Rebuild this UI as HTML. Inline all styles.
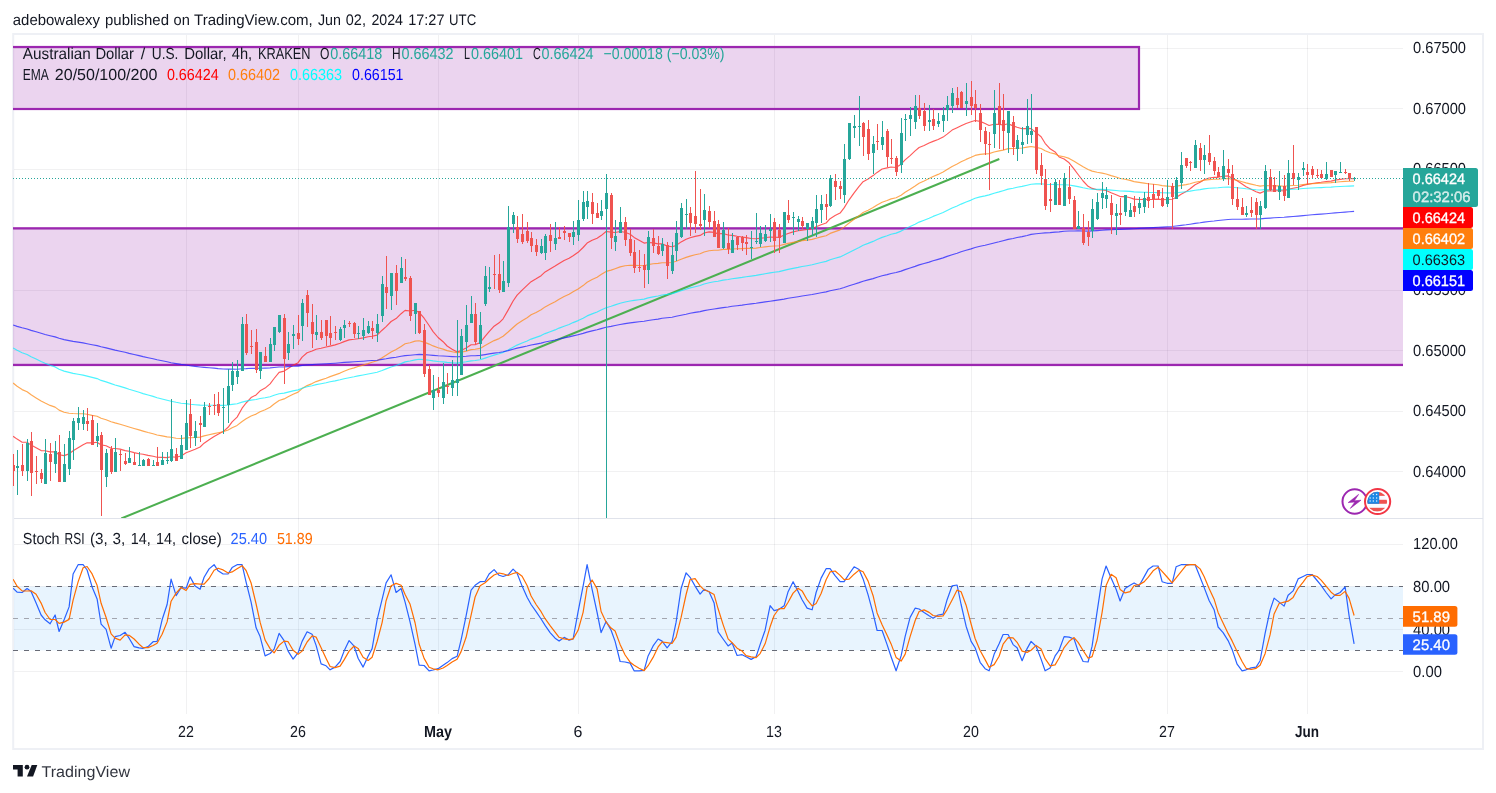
<!DOCTYPE html>
<html><head><meta charset="utf-8"><title>AUDUSD chart</title>
<style>html,body{margin:0;padding:0;background:#fff;}body{width:1496px;height:793px;position:relative;overflow:hidden;font-family:"Liberation Sans", sans-serif;}svg{font-family:"Liberation Sans", sans-serif;text-rendering:geometricPrecision;}</style>
</head><body>
<svg width="1496" height="793" viewBox="0 0 1496 793" style="position:absolute;left:0;top:0">
<defs>
<clipPath id="cm"><rect x="13" y="35" width="1390" height="483"/></clipPath>
<clipPath id="cs"><rect x="13" y="519" width="1390" height="195"/></clipPath>
<clipPath id="cm2"><rect x="13" y="35" width="1400" height="483"/></clipPath>
</defs>
<rect x="0" y="0" width="1496" height="793" fill="#fff"/>
<rect x="13.2" y="34" width="1469.8" height="715" fill="none" stroke="#eef0f5" stroke-width="2"/>
<rect x="14" y="518" width="1469" height="1" fill="#e0e3eb"/>
<rect x="186.0" y="35" width="1" height="679" fill="rgba(42,46,57,0.065)"/>
<rect x="298.0" y="35" width="1" height="679" fill="rgba(42,46,57,0.065)"/>
<rect x="438.0" y="35" width="1" height="679" fill="rgba(42,46,57,0.065)"/>
<rect x="578.0" y="35" width="1" height="679" fill="rgba(42,46,57,0.065)"/>
<rect x="774.0" y="35" width="1" height="679" fill="rgba(42,46,57,0.065)"/>
<rect x="971.0" y="35" width="1" height="679" fill="rgba(42,46,57,0.065)"/>
<rect x="1167.0" y="35" width="1" height="679" fill="rgba(42,46,57,0.065)"/>
<rect x="1307.0" y="35" width="1" height="679" fill="rgba(42,46,57,0.065)"/>
<rect x="14" y="48" width="1389" height="1" fill="rgba(42,46,57,0.065)"/>
<rect x="14" y="108" width="1389" height="1" fill="rgba(42,46,57,0.065)"/>
<rect x="14" y="169" width="1389" height="1" fill="rgba(42,46,57,0.065)"/>
<rect x="14" y="229" width="1389" height="1" fill="rgba(42,46,57,0.065)"/>
<rect x="14" y="290" width="1389" height="1" fill="rgba(42,46,57,0.065)"/>
<rect x="14" y="350" width="1389" height="1" fill="rgba(42,46,57,0.065)"/>
<rect x="14" y="411" width="1389" height="1" fill="rgba(42,46,57,0.065)"/>
<rect x="14" y="471" width="1389" height="1" fill="rgba(42,46,57,0.065)"/>
<rect x="14" y="544" width="1389" height="1" fill="rgba(42,46,57,0.065)"/>
<rect x="14" y="586" width="1389" height="1" fill="rgba(42,46,57,0.065)"/>
<rect x="14" y="629" width="1389" height="1" fill="rgba(42,46,57,0.065)"/>
<rect x="14" y="671" width="1389" height="1" fill="rgba(42,46,57,0.065)"/>
<g clip-path="url(#cm)">
<rect x="13" y="47" width="1126" height="62" fill="#9c27b0" fill-opacity="0.2"/>
<rect x="13" y="228.3" width="1390" height="136.7" fill="#9c27b0" fill-opacity="0.2"/>
</g>
<g clip-path="url(#cm2)"><rect x="0" y="47" width="1139" height="62" fill="none" stroke="#9c27b0" stroke-width="2.2"/></g>
<rect x="13" y="227.2" width="1390" height="2.3" fill="#9c27b0"/>
<rect x="13" y="363.8" width="1390" height="2.3" fill="#9c27b0"/>
<g clip-path="url(#cm)"><line x1="121.3" y1="518.5" x2="999.3" y2="159" stroke="#4caf50" stroke-width="2" stroke-linecap="butt"/></g>
<polyline clip-path="url(#cm)" points="13.1,436.3 17.1,439.1 22.1,442.2 27.1,442.2 31.1,445.1 36.1,447.7 41.1,450.6 45.1,450.8 50.1,451.9 55.1,451.8 59.1,454.7 64.1,455.6 69.1,453.9 73.1,450.8 78.1,447.7 83.1,444.7 87.1,442.7 92.1,442.9 97.1,442.3 101.1,444.9 106.1,445.7 111.1,448.2 115.1,448.5 120.1,449.1 125.1,450.6 129.1,451.3 134.1,452.6 139.1,453.7 143.1,454.3 148.1,455.4 153.1,456.3 157.1,457.2 162.1,457.4 167.1,457.6 171.1,456.8 176.1,457.2 181.1,456.0 186.1,452.8 190.1,451.2 195.1,449.3 200.1,447.0 204.1,443.2 209.1,439.7 214.1,436.5 218.1,434.2 223.1,431.6 228.1,427.3 232.1,421.9 237.1,417.1 242.1,408.2 246.1,403.0 251.1,397.6 256.1,394.9 260.1,390.8 265.1,388.1 270.1,383.9 274.1,378.5 279.1,372.4 284.1,371.1 288.1,368.5 293.1,365.2 298.1,362.7 302.1,357.1 307.1,352.8 312.1,351.0 316.1,349.2 321.1,348.2 326.1,347.0 330.1,346.1 335.1,344.9 340.1,343.3 344.1,341.6 349.1,339.9 354.1,339.3 358.1,338.7 363.1,337.9 368.1,336.8 372.1,336.2 377.1,335.1 382.1,330.2 386.1,326.6 391.1,321.5 396.1,318.6 401.1,313.7 405.1,310.4 410.1,311.0 415.1,310.2 419.1,312.4 424.1,318.2 429.1,325.5 433.1,331.6 438.1,337.5 443.1,341.7 447.1,346.0 452.1,349.2 457.1,352.1 461.1,350.5 466.1,348.1 471.1,344.8 475.1,344.6 480.1,342.7 485.1,336.3 489.1,331.6 494.1,326.2 499.1,322.8 503.1,318.8 508.1,310.1 513.1,301.0 517.1,295.1 522.1,290.1 527.1,285.4 531.1,281.7 536.1,278.8 541.1,275.7 545.1,271.9 550.1,268.9 555.1,266.0 559.1,263.4 564.1,260.5 569.1,258.3 573.1,255.8 578.1,252.3 583.1,247.5 587.1,243.1 592.1,240.3 597.1,238.2 601.1,235.6 606.1,231.5 611.1,232.1 615.1,232.5 620.1,231.5 625.1,232.3 630.1,234.2 634.1,237.4 639.1,240.3 644.1,243.1 648.1,242.5 653.1,242.9 658.1,243.9 662.1,243.9 667.1,246.0 672.1,246.8 676.1,245.5 681.1,241.9 686.1,239.3 690.1,237.7 695.1,236.4 700.1,235.4 704.1,233.0 709.1,231.9 714.1,232.4 718.1,233.9 723.1,233.5 728.1,235.0 732.1,235.4 737.1,236.3 742.1,237.0 746.1,237.6 751.1,238.5 756.1,238.7 760.1,238.2 765.1,237.8 770.1,237.0 774.1,237.3 779.1,237.4 784.1,235.0 788.1,233.5 793.1,231.9 798.1,230.7 802.1,230.2 807.1,229.5 812.1,228.7 816.1,226.8 821.1,224.7 826.1,223.0 830.1,218.7 835.1,215.6 840.1,213.1 844.1,207.9 849.1,199.8 854.1,192.8 859.1,186.4 863.1,181.7 868.1,179.0 873.1,175.6 877.1,172.4 882.1,169.0 887.1,167.9 891.1,167.0 896.1,167.5 901.1,164.2 905.1,159.9 910.1,155.6 915.1,150.9 919.1,147.5 924.1,145.5 929.1,143.0 933.1,141.4 938.1,139.5 943.1,137.1 947.1,134.1 952.1,130.1 957.1,127.7 961.1,125.8 966.1,123.5 971.1,121.8 975.1,120.5 980.1,121.4 985.1,123.5 989.1,125.5 994.1,124.3 999.1,124.4 1003.1,125.0 1008.1,123.7 1013.1,125.9 1017.1,127.3 1022.1,128.7 1027.1,128.4 1031.1,128.6 1036.1,132.6 1041.1,136.7 1045.1,143.3 1050.1,148.8 1055.1,151.9 1059.1,157.0 1064.1,159.0 1069.1,162.8 1074.1,169.1 1078.1,174.5 1083.1,181.0 1088.1,186.3 1092.1,188.4 1097.1,189.7 1102.1,190.0 1106.1,190.5 1111.1,192.8 1116.1,194.7 1120.1,196.6 1125.1,196.5 1130.1,197.8 1134.1,199.1 1139.1,199.5 1144.1,199.4 1148.1,199.5 1153.1,199.4 1158.1,199.1 1162.1,199.7 1167.1,199.5 1172.1,199.2 1176.1,197.4 1181.1,194.3 1186.1,191.6 1190.1,188.8 1195.1,184.7 1200.1,182.3 1204.1,179.7 1209.1,178.0 1214.1,177.3 1218.1,177.3 1223.1,176.2 1228.1,175.9 1232.1,178.1 1237.1,180.8 1242.1,184.1 1246.1,186.8 1251.1,189.3 1256.1,191.7 1260.1,193.1 1265.1,191.0 1270.1,190.9 1274.1,191.0 1279.1,190.5 1284.1,191.0 1288.1,189.3 1293.1,188.3 1298.1,187.2 1303.1,185.4 1307.1,184.4 1312.1,183.5 1317.1,182.7 1321.1,182.3 1326.1,181.5 1331.1,181.1 1335.1,180.1 1340.1,179.4 1345.1,178.7 1349.1,178.7 1354.1,178.6" fill="none" stroke="#ff3030" stroke-width="1.15" stroke-opacity="0.8" stroke-linejoin="round"/>
<polyline clip-path="url(#cm)" points="13.1,383.0 17.1,386.3 22.1,389.6 27.1,391.7 31.1,394.8 36.1,397.9 41.1,401.0 45.1,403.1 50.1,405.4 55.1,407.1 59.1,410.1 64.1,412.2 69.1,413.2 73.1,413.5 78.1,413.7 83.1,413.8 87.1,414.2 92.1,415.4 97.1,416.2 101.1,418.3 106.1,419.7 111.1,421.7 115.1,422.9 120.1,424.2 125.1,425.8 129.1,427.0 134.1,428.5 139.1,429.9 143.1,431.1 148.1,432.5 153.1,433.7 157.1,435.0 162.1,435.9 167.1,436.9 171.1,437.3 176.1,438.2 181.1,438.5 186.1,437.9 190.1,437.8 195.1,437.5 200.1,437.1 204.1,435.9 209.1,434.7 214.1,433.6 218.1,432.8 223.1,431.8 228.1,430.0 232.1,427.7 237.1,425.4 242.1,421.5 246.1,418.8 251.1,416.0 256.1,414.1 260.1,411.7 265.1,409.7 270.1,407.2 274.1,404.0 279.1,400.5 284.1,398.9 288.1,396.7 293.1,394.3 298.1,392.1 302.1,388.6 307.1,385.6 312.1,383.6 316.1,381.6 321.1,379.9 326.1,378.2 330.1,376.6 335.1,374.9 340.1,373.1 344.1,371.2 349.1,369.3 354.1,367.9 358.1,366.5 363.1,365.1 368.1,363.6 372.1,362.3 377.1,360.8 382.1,357.8 386.1,355.2 391.1,352.0 396.1,349.6 401.1,346.4 405.1,343.8 410.1,342.7 415.1,341.1 419.1,340.8 424.1,342.1 429.1,344.1 433.1,345.9 438.1,347.8 443.1,349.1 447.1,350.6 452.1,351.7 457.1,352.8 461.1,352.2 466.1,351.1 471.1,349.6 475.1,349.3 480.1,348.4 485.1,345.5 489.1,343.2 494.1,340.6 499.1,338.6 503.1,336.3 508.1,332.0 513.1,327.5 517.1,324.0 522.1,320.8 527.1,317.7 531.1,314.8 536.1,312.4 541.1,309.8 545.1,306.9 550.1,304.3 555.1,301.7 559.1,299.2 564.1,296.6 569.1,294.3 573.1,291.8 578.1,289.0 583.1,285.6 587.1,282.3 592.1,279.6 597.1,277.2 601.1,274.6 606.1,271.4 611.1,270.1 615.1,268.7 620.1,266.9 625.1,265.8 630.1,265.3 634.1,265.4 639.1,265.5 644.1,265.7 648.1,264.6 653.1,263.8 658.1,263.4 662.1,262.7 667.1,262.8 672.1,262.5 676.1,261.3 681.1,259.2 686.1,257.4 690.1,256.1 695.1,254.8 700.1,253.7 704.1,252.0 709.1,250.8 714.1,250.3 718.1,250.2 723.1,249.4 728.1,249.4 732.1,249.0 737.1,248.8 742.1,248.6 746.1,248.4 751.1,248.4 756.1,248.1 760.1,247.5 765.1,246.9 770.1,246.2 774.1,246.0 779.1,245.7 784.1,244.4 788.1,243.4 793.1,242.4 798.1,241.5 802.1,240.8 807.1,240.1 812.1,239.4 816.1,238.2 821.1,236.9 826.1,235.7 830.1,233.4 835.1,231.6 840.1,229.9 844.1,227.1 849.1,223.0 854.1,219.2 859.1,215.6 863.1,212.5 868.1,210.2 873.1,207.6 877.1,205.0 882.1,202.3 887.1,200.5 891.1,198.9 896.1,197.8 901.1,195.3 905.1,192.3 910.1,189.3 915.1,186.0 919.1,183.2 924.1,181.0 929.1,178.6 933.1,176.5 938.1,174.4 943.1,172.0 947.1,169.4 952.1,166.4 957.1,164.0 961.1,161.8 966.1,159.4 971.1,157.3 975.1,155.4 980.1,154.4 985.1,153.9 989.1,153.6 994.1,152.0 999.1,150.9 1003.1,150.1 1008.1,148.6 1013.1,148.5 1017.1,148.2 1022.1,148.0 1027.1,147.1 1031.1,146.5 1036.1,147.4 1041.1,148.5 1045.1,150.8 1050.1,152.7 1055.1,153.9 1059.1,155.9 1064.1,156.7 1069.1,158.4 1074.1,161.2 1078.1,163.7 1083.1,166.8 1088.1,169.5 1092.1,171.1 1097.1,172.3 1102.1,173.1 1106.1,174.0 1111.1,175.6 1116.1,177.0 1120.1,178.5 1125.1,179.2 1130.1,180.4 1134.1,181.6 1139.1,182.4 1144.1,183.1 1148.1,183.8 1153.1,184.3 1158.1,184.8 1162.1,185.6 1167.1,186.1 1172.1,186.5 1176.1,186.2 1181.1,185.4 1186.1,184.6 1190.1,183.8 1195.1,182.3 1200.1,181.4 1204.1,180.3 1209.1,179.6 1214.1,179.3 1218.1,179.2 1223.1,178.7 1228.1,178.4 1232.1,179.2 1237.1,180.3 1242.1,181.7 1246.1,182.9 1251.1,184.1 1256.1,185.3 1260.1,186.1 1265.1,185.5 1270.1,185.7 1274.1,185.9 1279.1,185.9 1284.1,186.3 1288.1,185.8 1293.1,185.5 1298.1,185.2 1303.1,184.5 1307.1,184.1 1312.1,183.8 1317.1,183.4 1321.1,183.2 1326.1,182.9 1331.1,182.6 1335.1,182.2 1340.1,181.8 1345.1,181.4 1349.1,181.3 1354.1,181.2" fill="none" stroke="#ff8c1a" stroke-width="1.15" stroke-opacity="0.75" stroke-linejoin="round"/>
<polyline clip-path="url(#cm)" points="13.1,348.0 17.1,350.3 22.1,352.7 27.1,354.5 31.1,356.8 36.1,359.1 41.1,361.5 45.1,363.3 50.1,365.2 55.1,366.9 59.1,369.2 64.1,371.1 69.1,372.4 73.1,373.4 78.1,374.3 83.1,375.1 87.1,376.1 92.1,377.4 97.1,378.6 101.1,380.4 106.1,381.9 111.1,383.6 115.1,385.0 120.1,386.4 125.1,387.9 129.1,389.3 134.1,390.8 139.1,392.3 143.1,393.6 148.1,395.0 153.1,396.4 157.1,397.8 162.1,399.0 167.1,400.2 171.1,401.2 176.1,402.3 181.1,403.2 186.1,403.6 190.1,404.2 195.1,404.7 200.1,405.1 204.1,405.2 209.1,405.2 214.1,405.2 218.1,405.4 223.1,405.4 228.1,405.0 232.1,404.4 237.1,403.7 242.1,402.1 246.1,401.1 251.1,400.1 256.1,399.5 260.1,398.5 265.1,397.8 270.1,396.7 274.1,395.3 279.1,393.8 284.1,393.1 288.1,392.1 293.1,390.9 298.1,389.9 302.1,388.2 307.1,386.7 312.1,385.7 316.1,384.6 321.1,383.7 326.1,382.7 330.1,381.8 335.1,380.9 340.1,379.8 344.1,378.7 349.1,377.7 354.1,376.8 358.1,375.9 363.1,375.0 368.1,374.0 372.1,373.2 377.1,372.2 382.1,370.5 386.1,368.9 391.1,367.0 396.1,365.5 401.1,363.6 405.1,361.9 410.1,361.0 415.1,359.9 419.1,359.3 424.1,359.6 429.1,360.3 433.1,360.9 438.1,361.5 443.1,361.9 447.1,362.4 452.1,362.8 457.1,363.1 461.1,362.5 466.1,361.8 471.1,360.9 475.1,360.5 480.1,359.8 485.1,358.1 489.1,356.7 494.1,355.1 499.1,353.8 503.1,352.4 508.1,349.9 513.1,347.2 517.1,345.1 522.1,343.0 527.1,341.0 531.1,339.1 536.1,337.4 541.1,335.6 545.1,333.6 550.1,331.8 555.1,329.9 559.1,328.1 564.1,326.2 569.1,324.5 573.1,322.6 578.1,320.6 583.1,318.2 587.1,315.9 592.1,313.9 597.1,312.0 601.1,310.0 606.1,307.7 611.1,306.3 615.1,304.9 620.1,303.3 625.1,302.0 630.1,301.0 634.1,300.4 639.1,299.7 644.1,299.1 648.1,297.9 653.1,296.9 658.1,296.0 662.1,295.0 667.1,294.4 672.1,293.6 676.1,292.4 681.1,290.8 686.1,289.2 690.1,287.9 695.1,286.7 700.1,285.5 704.1,284.0 709.1,282.7 714.1,281.8 718.1,281.2 723.1,280.1 728.1,279.5 732.1,278.7 737.1,278.1 742.1,277.4 746.1,276.7 751.1,276.1 756.1,275.4 760.1,274.6 765.1,273.8 770.1,272.9 774.1,272.3 779.1,271.6 784.1,270.4 788.1,269.4 793.1,268.4 798.1,267.4 802.1,266.5 807.1,265.7 812.1,264.8 816.1,263.7 821.1,262.5 826.1,261.4 830.1,259.8 835.1,258.3 840.1,256.9 844.1,255.0 849.1,252.4 854.1,249.9 859.1,247.4 863.1,245.2 868.1,243.4 873.1,241.4 877.1,239.5 882.1,237.4 887.1,235.8 891.1,234.3 896.1,233.1 901.1,231.1 905.1,228.9 910.1,226.6 915.1,224.2 919.1,222.1 924.1,220.2 929.1,218.2 933.1,216.4 938.1,214.5 943.1,212.5 947.1,210.4 952.1,208.0 957.1,206.0 961.1,204.1 966.1,202.0 971.1,200.1 975.1,198.3 980.1,196.9 985.1,195.9 989.1,194.9 994.1,193.2 999.1,191.9 1003.1,190.7 1008.1,189.1 1013.1,188.3 1017.1,187.3 1022.1,186.4 1027.1,185.2 1031.1,184.2 1036.1,183.9 1041.1,183.7 1045.1,184.2 1050.1,184.5 1055.1,184.4 1059.1,184.8 1064.1,184.7 1069.1,185.0 1074.1,185.9 1078.1,186.6 1083.1,187.8 1088.1,188.7 1092.1,189.1 1097.1,189.4 1102.1,189.4 1106.1,189.6 1111.1,190.1 1116.1,190.5 1120.1,191.0 1125.1,191.1 1130.1,191.4 1134.1,191.9 1139.1,192.1 1144.1,192.2 1148.1,192.4 1153.1,192.5 1158.1,192.6 1162.1,192.8 1167.1,192.9 1172.1,193.0 1176.1,192.7 1181.1,192.2 1186.1,191.7 1190.1,191.1 1195.1,190.2 1200.1,189.6 1204.1,188.9 1209.1,188.3 1214.1,188.0 1218.1,187.8 1223.1,187.3 1228.1,187.1 1232.1,187.3 1237.1,187.7 1242.1,188.2 1246.1,188.7 1251.1,189.2 1256.1,189.7 1260.1,190.0 1265.1,189.6 1270.1,189.6 1274.1,189.7 1279.1,189.6 1284.1,189.7 1288.1,189.4 1293.1,189.2 1298.1,189.0 1303.1,188.5 1307.1,188.3 1312.1,188.0 1317.1,187.8 1321.1,187.6 1326.1,187.3 1331.1,187.1 1335.1,186.8 1340.1,186.5 1345.1,186.2 1349.1,186.1 1354.1,185.9" fill="none" stroke="#00f0ff" stroke-width="1.15" stroke-opacity="0.7" stroke-linejoin="round"/>
<polyline clip-path="url(#cm)" points="13.1,325.0 17.1,326.4 22.1,327.8 27.1,329.0 31.1,330.4 36.1,331.8 41.1,333.3 45.1,334.5 50.1,335.7 55.1,336.9 59.1,338.3 64.1,339.6 69.1,340.6 73.1,341.4 78.1,342.1 83.1,342.9 87.1,343.7 92.1,344.7 97.1,345.6 101.1,346.8 106.1,347.9 111.1,349.1 115.1,350.1 120.1,351.2 125.1,352.3 129.1,353.4 134.1,354.5 139.1,355.6 143.1,356.6 148.1,357.7 153.1,358.8 157.1,359.8 162.1,360.8 167.1,361.8 171.1,362.7 176.1,363.6 181.1,364.4 186.1,365.0 190.1,365.7 195.1,366.4 200.1,367.0 204.1,367.4 209.1,367.8 214.1,368.1 218.1,368.6 223.1,369.0 228.1,369.1 232.1,369.1 237.1,369.2 242.1,368.7 246.1,368.6 251.1,368.3 256.1,368.4 260.1,368.2 265.1,368.1 270.1,367.9 274.1,367.5 279.1,367.0 284.1,366.9 288.1,366.6 293.1,366.3 298.1,366.1 302.1,365.4 307.1,364.9 312.1,364.6 316.1,364.3 321.1,364.0 326.1,363.7 330.1,363.5 335.1,363.2 340.1,362.8 344.1,362.4 349.1,362.1 354.1,361.8 358.1,361.5 363.1,361.2 368.1,360.8 372.1,360.5 377.1,360.2 382.1,359.4 386.1,358.8 391.1,357.9 396.1,357.2 401.1,356.3 405.1,355.6 410.1,355.2 415.1,354.7 419.1,354.4 424.1,354.6 429.1,355.0 433.1,355.4 438.1,355.8 443.1,356.0 447.1,356.3 452.1,356.6 457.1,356.8 461.1,356.6 466.1,356.3 471.1,355.8 475.1,355.7 480.1,355.4 485.1,354.6 489.1,353.9 494.1,353.1 499.1,352.5 503.1,351.8 508.1,350.6 513.1,349.2 517.1,348.1 522.1,347.1 527.1,346.0 531.1,345.0 536.1,344.1 541.1,343.1 545.1,342.0 550.1,341.0 555.1,340.0 559.1,339.0 564.1,337.9 569.1,336.9 573.1,335.9 578.1,334.7 583.1,333.4 587.1,332.1 592.1,330.9 597.1,329.8 601.1,328.6 606.1,327.3 611.1,326.4 615.1,325.5 620.1,324.5 625.1,323.6 630.1,322.9 634.1,322.4 639.1,321.8 644.1,321.3 648.1,320.5 653.1,319.7 658.1,319.1 662.1,318.3 667.1,317.8 672.1,317.2 676.1,316.3 681.1,315.2 686.1,314.2 690.1,313.3 695.1,312.4 700.1,311.6 704.1,310.6 709.1,309.7 714.1,309.0 718.1,308.4 723.1,307.6 728.1,307.0 732.1,306.3 737.1,305.7 742.1,305.1 746.1,304.5 751.1,303.9 756.1,303.3 760.1,302.6 765.1,301.9 770.1,301.2 774.1,300.6 779.1,299.9 784.1,299.1 788.1,298.3 793.1,297.5 798.1,296.7 802.1,296.0 807.1,295.3 812.1,294.5 816.1,293.7 821.1,292.8 826.1,291.9 830.1,290.8 835.1,289.8 840.1,288.7 844.1,287.5 849.1,285.8 854.1,284.2 859.1,282.6 863.1,281.2 868.1,279.9 873.1,278.6 877.1,277.2 882.1,275.8 887.1,274.6 891.1,273.5 896.1,272.5 901.1,271.1 905.1,269.6 910.1,268.0 915.1,266.4 919.1,264.9 924.1,263.5 929.1,262.1 933.1,260.8 938.1,259.4 943.1,257.9 947.1,256.4 952.1,254.8 957.1,253.3 961.1,251.8 966.1,250.3 971.1,248.9 975.1,247.5 980.1,246.3 985.1,245.3 989.1,244.3 994.1,243.0 999.1,241.8 1003.1,240.7 1008.1,239.4 1013.1,238.5 1017.1,237.5 1022.1,236.6 1027.1,235.5 1031.1,234.4 1036.1,233.8 1041.1,233.2 1045.1,232.9 1050.1,232.6 1055.1,232.1 1059.1,231.9 1064.1,231.3 1069.1,231.0 1074.1,231.0 1078.1,230.9 1083.1,231.0 1088.1,231.1 1092.1,230.9 1097.1,230.6 1102.1,230.2 1106.1,229.9 1111.1,229.7 1116.1,229.5 1120.1,229.4 1125.1,229.1 1130.1,228.9 1134.1,228.7 1139.1,228.4 1144.1,228.1 1148.1,227.9 1153.1,227.6 1158.1,227.3 1162.1,227.1 1167.1,226.8 1172.1,226.5 1176.1,226.0 1181.1,225.4 1186.1,224.8 1190.1,224.2 1195.1,223.4 1200.1,222.8 1204.1,222.1 1209.1,221.5 1214.1,221.0 1218.1,220.5 1223.1,220.0 1228.1,219.5 1232.1,219.3 1237.1,219.2 1242.1,219.2 1246.1,219.1 1251.1,219.0 1256.1,219.0 1260.1,218.9 1265.1,218.4 1270.1,218.1 1274.1,217.8 1279.1,217.5 1284.1,217.3 1288.1,216.9 1293.1,216.5 1298.1,216.1 1303.1,215.6 1307.1,215.2 1312.1,214.8 1317.1,214.4 1321.1,214.1 1326.1,213.7 1331.1,213.3 1335.1,212.9 1340.1,212.5 1345.1,212.1 1349.1,211.7 1354.1,211.4" fill="none" stroke="#2020ff" stroke-width="1.15" stroke-opacity="0.75" stroke-linejoin="round"/>
<g clip-path="url(#cm)" shape-rendering="crispEdges">
<rect x="13" y="454" width="1" height="32" fill="#ef5350"/>
<rect x="12" y="465" width="3" height="6" fill="#ef5350"/>
<rect x="17" y="450" width="1" height="45" fill="#26a69a"/>
<rect x="16" y="466" width="3" height="2" fill="#26a69a"/>
<rect x="22" y="444" width="1" height="32" fill="#ef5350"/>
<rect x="21" y="465" width="3" height="6" fill="#ef5350"/>
<rect x="27" y="439" width="1" height="42" fill="#26a69a"/>
<rect x="26" y="443" width="3" height="28" fill="#26a69a"/>
<rect x="31" y="432" width="1" height="64" fill="#ef5350"/>
<rect x="30" y="441" width="3" height="32" fill="#ef5350"/>
<rect x="36" y="456" width="1" height="28" fill="#ef5350"/>
<rect x="35" y="471" width="3" height="1" fill="#ef5350"/>
<rect x="41" y="469" width="1" height="14" fill="#ef5350"/>
<rect x="40" y="473" width="3" height="6" fill="#ef5350"/>
<rect x="45" y="439" width="1" height="45" fill="#26a69a"/>
<rect x="44" y="453" width="3" height="31" fill="#26a69a"/>
<rect x="50" y="443" width="1" height="38" fill="#ef5350"/>
<rect x="49" y="454" width="3" height="8" fill="#ef5350"/>
<rect x="55" y="441" width="1" height="32" fill="#26a69a"/>
<rect x="54" y="451" width="3" height="13" fill="#26a69a"/>
<rect x="59" y="435" width="1" height="47" fill="#ef5350"/>
<rect x="58" y="452" width="3" height="30" fill="#ef5350"/>
<rect x="64" y="444" width="1" height="38" fill="#26a69a"/>
<rect x="63" y="464" width="3" height="18" fill="#26a69a"/>
<rect x="69" y="431" width="1" height="44" fill="#26a69a"/>
<rect x="68" y="438" width="3" height="31" fill="#26a69a"/>
<rect x="73" y="418" width="1" height="42" fill="#26a69a"/>
<rect x="72" y="421" width="3" height="19" fill="#26a69a"/>
<rect x="78" y="407" width="1" height="23" fill="#26a69a"/>
<rect x="77" y="418" width="3" height="5" fill="#26a69a"/>
<rect x="83" y="410" width="1" height="20" fill="#26a69a"/>
<rect x="82" y="417" width="3" height="7" fill="#26a69a"/>
<rect x="87" y="408" width="1" height="23" fill="#ef5350"/>
<rect x="86" y="421" width="3" height="3" fill="#ef5350"/>
<rect x="92" y="415" width="1" height="30" fill="#ef5350"/>
<rect x="91" y="420" width="3" height="25" fill="#ef5350"/>
<rect x="97" y="423" width="1" height="24" fill="#26a69a"/>
<rect x="96" y="436" width="3" height="5" fill="#26a69a"/>
<rect x="101" y="432" width="1" height="84" fill="#ef5350"/>
<rect x="100" y="435" width="3" height="35" fill="#ef5350"/>
<rect x="106" y="449" width="1" height="38" fill="#26a69a"/>
<rect x="105" y="453" width="3" height="24" fill="#26a69a"/>
<rect x="111" y="446" width="1" height="28" fill="#ef5350"/>
<rect x="110" y="449" width="3" height="23" fill="#ef5350"/>
<rect x="115" y="438" width="1" height="34" fill="#26a69a"/>
<rect x="114" y="452" width="3" height="20" fill="#26a69a"/>
<rect x="120" y="450" width="1" height="21" fill="#ef5350"/>
<rect x="119" y="454" width="3" height="1" fill="#ef5350"/>
<rect x="125" y="453" width="1" height="12" fill="#ef5350"/>
<rect x="124" y="461" width="3" height="3" fill="#ef5350"/>
<rect x="129" y="447" width="1" height="16" fill="#26a69a"/>
<rect x="128" y="458" width="3" height="5" fill="#26a69a"/>
<rect x="134" y="453" width="1" height="12" fill="#ef5350"/>
<rect x="133" y="462" width="3" height="3" fill="#ef5350"/>
<rect x="139" y="452" width="1" height="14" fill="#26a69a"/>
<rect x="138" y="465" width="3" height="1" fill="#26a69a"/>
<rect x="143" y="459" width="1" height="7" fill="#26a69a"/>
<rect x="142" y="460" width="3" height="6" fill="#26a69a"/>
<rect x="148" y="458" width="1" height="8" fill="#ef5350"/>
<rect x="147" y="459" width="3" height="7" fill="#ef5350"/>
<rect x="153" y="460" width="1" height="6" fill="#26a69a"/>
<rect x="152" y="465" width="3" height="1" fill="#26a69a"/>
<rect x="157" y="447" width="1" height="19" fill="#ef5350"/>
<rect x="156" y="462" width="3" height="4" fill="#ef5350"/>
<rect x="162" y="452" width="1" height="13" fill="#26a69a"/>
<rect x="161" y="460" width="3" height="5" fill="#26a69a"/>
<rect x="167" y="452" width="1" height="12" fill="#26a69a"/>
<rect x="166" y="460" width="3" height="1" fill="#26a69a"/>
<rect x="171" y="399" width="1" height="63" fill="#26a69a"/>
<rect x="170" y="449" width="3" height="12" fill="#26a69a"/>
<rect x="176" y="448" width="1" height="13" fill="#ef5350"/>
<rect x="175" y="454" width="3" height="7" fill="#ef5350"/>
<rect x="181" y="435" width="1" height="24" fill="#26a69a"/>
<rect x="180" y="445" width="3" height="14" fill="#26a69a"/>
<rect x="186" y="400" width="1" height="50" fill="#26a69a"/>
<rect x="185" y="423" width="3" height="27" fill="#26a69a"/>
<rect x="190" y="399" width="1" height="49" fill="#ef5350"/>
<rect x="189" y="414" width="3" height="22" fill="#ef5350"/>
<rect x="195" y="421" width="1" height="25" fill="#26a69a"/>
<rect x="194" y="431" width="3" height="7" fill="#26a69a"/>
<rect x="200" y="416" width="1" height="26" fill="#ef5350"/>
<rect x="199" y="423" width="3" height="2" fill="#ef5350"/>
<rect x="204" y="402" width="1" height="25" fill="#26a69a"/>
<rect x="203" y="407" width="3" height="20" fill="#26a69a"/>
<rect x="209" y="403" width="1" height="12" fill="#ef5350"/>
<rect x="208" y="406" width="3" height="1" fill="#ef5350"/>
<rect x="214" y="394" width="1" height="21" fill="#ef5350"/>
<rect x="213" y="405" width="3" height="1" fill="#ef5350"/>
<rect x="218" y="392" width="1" height="24" fill="#ef5350"/>
<rect x="217" y="404" width="3" height="9" fill="#ef5350"/>
<rect x="223" y="388" width="1" height="46" fill="#26a69a"/>
<rect x="222" y="407" width="3" height="1" fill="#26a69a"/>
<rect x="228" y="369" width="1" height="54" fill="#26a69a"/>
<rect x="227" y="386" width="3" height="19" fill="#26a69a"/>
<rect x="232" y="362" width="1" height="29" fill="#26a69a"/>
<rect x="231" y="371" width="3" height="14" fill="#26a69a"/>
<rect x="237" y="360" width="1" height="24" fill="#26a69a"/>
<rect x="236" y="371" width="3" height="6" fill="#26a69a"/>
<rect x="242" y="317" width="1" height="54" fill="#26a69a"/>
<rect x="241" y="324" width="3" height="47" fill="#26a69a"/>
<rect x="246" y="314" width="1" height="41" fill="#ef5350"/>
<rect x="245" y="324" width="3" height="29" fill="#ef5350"/>
<rect x="251" y="330" width="1" height="24" fill="#ef5350"/>
<rect x="250" y="346" width="3" height="1" fill="#ef5350"/>
<rect x="256" y="329" width="1" height="44" fill="#ef5350"/>
<rect x="255" y="342" width="3" height="28" fill="#ef5350"/>
<rect x="260" y="352" width="1" height="27" fill="#26a69a"/>
<rect x="259" y="352" width="3" height="19" fill="#26a69a"/>
<rect x="265" y="347" width="1" height="15" fill="#ef5350"/>
<rect x="264" y="356" width="3" height="6" fill="#ef5350"/>
<rect x="270" y="338" width="1" height="24" fill="#26a69a"/>
<rect x="269" y="344" width="3" height="18" fill="#26a69a"/>
<rect x="274" y="327" width="1" height="24" fill="#26a69a"/>
<rect x="273" y="327" width="3" height="18" fill="#26a69a"/>
<rect x="279" y="315" width="1" height="18" fill="#26a69a"/>
<rect x="278" y="315" width="3" height="17" fill="#26a69a"/>
<rect x="284" y="314" width="1" height="70" fill="#ef5350"/>
<rect x="283" y="318" width="3" height="41" fill="#ef5350"/>
<rect x="288" y="332" width="1" height="28" fill="#26a69a"/>
<rect x="287" y="344" width="3" height="9" fill="#26a69a"/>
<rect x="293" y="325" width="1" height="24" fill="#26a69a"/>
<rect x="292" y="334" width="3" height="2" fill="#26a69a"/>
<rect x="298" y="315" width="1" height="30" fill="#ef5350"/>
<rect x="297" y="333" width="3" height="6" fill="#ef5350"/>
<rect x="302" y="299" width="1" height="42" fill="#26a69a"/>
<rect x="301" y="303" width="3" height="23" fill="#26a69a"/>
<rect x="307" y="290" width="1" height="37" fill="#ef5350"/>
<rect x="306" y="295" width="3" height="18" fill="#ef5350"/>
<rect x="312" y="304" width="1" height="44" fill="#ef5350"/>
<rect x="311" y="322" width="3" height="12" fill="#ef5350"/>
<rect x="316" y="315" width="1" height="25" fill="#26a69a"/>
<rect x="315" y="332" width="3" height="3" fill="#26a69a"/>
<rect x="321" y="320" width="1" height="20" fill="#ef5350"/>
<rect x="320" y="332" width="3" height="6" fill="#ef5350"/>
<rect x="326" y="320" width="1" height="26" fill="#ef5350"/>
<rect x="325" y="320" width="3" height="16" fill="#ef5350"/>
<rect x="330" y="316" width="1" height="29" fill="#ef5350"/>
<rect x="329" y="333" width="3" height="5" fill="#ef5350"/>
<rect x="335" y="326" width="1" height="14" fill="#ef5350"/>
<rect x="334" y="332" width="3" height="1" fill="#ef5350"/>
<rect x="340" y="327" width="1" height="14" fill="#26a69a"/>
<rect x="339" y="329" width="3" height="11" fill="#26a69a"/>
<rect x="344" y="320" width="1" height="18" fill="#26a69a"/>
<rect x="343" y="325" width="3" height="3" fill="#26a69a"/>
<rect x="349" y="321" width="1" height="6" fill="#ef5350"/>
<rect x="348" y="323" width="3" height="1" fill="#ef5350"/>
<rect x="354" y="322" width="1" height="16" fill="#ef5350"/>
<rect x="353" y="323" width="3" height="11" fill="#ef5350"/>
<rect x="358" y="326" width="1" height="13" fill="#26a69a"/>
<rect x="357" y="333" width="3" height="1" fill="#26a69a"/>
<rect x="363" y="318" width="1" height="22" fill="#26a69a"/>
<rect x="362" y="330" width="3" height="6" fill="#26a69a"/>
<rect x="368" y="321" width="1" height="13" fill="#26a69a"/>
<rect x="367" y="326" width="3" height="7" fill="#26a69a"/>
<rect x="372" y="321" width="1" height="18" fill="#ef5350"/>
<rect x="371" y="328" width="3" height="3" fill="#ef5350"/>
<rect x="377" y="314" width="1" height="28" fill="#26a69a"/>
<rect x="376" y="324" width="3" height="9" fill="#26a69a"/>
<rect x="382" y="276" width="1" height="46" fill="#26a69a"/>
<rect x="381" y="284" width="3" height="32" fill="#26a69a"/>
<rect x="386" y="256" width="1" height="53" fill="#ef5350"/>
<rect x="385" y="287" width="3" height="6" fill="#ef5350"/>
<rect x="391" y="273" width="1" height="37" fill="#26a69a"/>
<rect x="390" y="273" width="3" height="23" fill="#26a69a"/>
<rect x="396" y="265" width="1" height="40" fill="#ef5350"/>
<rect x="395" y="273" width="3" height="18" fill="#ef5350"/>
<rect x="401" y="257" width="1" height="26" fill="#26a69a"/>
<rect x="400" y="268" width="3" height="15" fill="#26a69a"/>
<rect x="405" y="259" width="1" height="22" fill="#ef5350"/>
<rect x="404" y="277" width="3" height="2" fill="#ef5350"/>
<rect x="410" y="276" width="1" height="45" fill="#ef5350"/>
<rect x="409" y="278" width="3" height="38" fill="#ef5350"/>
<rect x="415" y="303" width="1" height="31" fill="#26a69a"/>
<rect x="414" y="303" width="3" height="11" fill="#26a69a"/>
<rect x="419" y="311" width="1" height="23" fill="#ef5350"/>
<rect x="418" y="311" width="3" height="22" fill="#ef5350"/>
<rect x="424" y="324" width="1" height="53" fill="#ef5350"/>
<rect x="423" y="330" width="3" height="44" fill="#ef5350"/>
<rect x="429" y="365" width="1" height="30" fill="#ef5350"/>
<rect x="428" y="369" width="3" height="26" fill="#ef5350"/>
<rect x="433" y="375" width="1" height="35" fill="#26a69a"/>
<rect x="432" y="390" width="3" height="8" fill="#26a69a"/>
<rect x="438" y="377" width="1" height="20" fill="#ef5350"/>
<rect x="437" y="390" width="3" height="3" fill="#ef5350"/>
<rect x="443" y="363" width="1" height="41" fill="#26a69a"/>
<rect x="442" y="382" width="3" height="16" fill="#26a69a"/>
<rect x="447" y="373" width="1" height="21" fill="#ef5350"/>
<rect x="446" y="386" width="3" height="1" fill="#ef5350"/>
<rect x="452" y="360" width="1" height="36" fill="#26a69a"/>
<rect x="451" y="380" width="3" height="8" fill="#26a69a"/>
<rect x="457" y="320" width="1" height="76" fill="#26a69a"/>
<rect x="456" y="379" width="3" height="4" fill="#26a69a"/>
<rect x="461" y="329" width="1" height="46" fill="#26a69a"/>
<rect x="460" y="336" width="3" height="39" fill="#26a69a"/>
<rect x="466" y="305" width="1" height="46" fill="#26a69a"/>
<rect x="465" y="325" width="3" height="17" fill="#26a69a"/>
<rect x="471" y="296" width="1" height="27" fill="#26a69a"/>
<rect x="470" y="314" width="3" height="9" fill="#26a69a"/>
<rect x="475" y="303" width="1" height="41" fill="#ef5350"/>
<rect x="474" y="314" width="3" height="28" fill="#ef5350"/>
<rect x="480" y="312" width="1" height="47" fill="#26a69a"/>
<rect x="479" y="325" width="3" height="19" fill="#26a69a"/>
<rect x="485" y="266" width="1" height="40" fill="#26a69a"/>
<rect x="484" y="276" width="3" height="28" fill="#26a69a"/>
<rect x="489" y="267" width="1" height="25" fill="#26a69a"/>
<rect x="488" y="287" width="3" height="2" fill="#26a69a"/>
<rect x="494" y="255" width="1" height="34" fill="#ef5350"/>
<rect x="493" y="274" width="3" height="1" fill="#ef5350"/>
<rect x="499" y="254" width="1" height="39" fill="#ef5350"/>
<rect x="498" y="274" width="3" height="16" fill="#ef5350"/>
<rect x="503" y="261" width="1" height="31" fill="#26a69a"/>
<rect x="502" y="281" width="3" height="11" fill="#26a69a"/>
<rect x="508" y="206" width="1" height="81" fill="#26a69a"/>
<rect x="507" y="227" width="3" height="56" fill="#26a69a"/>
<rect x="513" y="212" width="1" height="21" fill="#26a69a"/>
<rect x="512" y="215" width="3" height="9" fill="#26a69a"/>
<rect x="517" y="216" width="1" height="27" fill="#ef5350"/>
<rect x="516" y="227" width="3" height="12" fill="#ef5350"/>
<rect x="522" y="214" width="1" height="30" fill="#ef5350"/>
<rect x="521" y="234" width="3" height="8" fill="#ef5350"/>
<rect x="527" y="222" width="1" height="21" fill="#ef5350"/>
<rect x="526" y="231" width="3" height="10" fill="#ef5350"/>
<rect x="531" y="232" width="1" height="20" fill="#ef5350"/>
<rect x="530" y="238" width="3" height="8" fill="#ef5350"/>
<rect x="536" y="239" width="1" height="17" fill="#ef5350"/>
<rect x="535" y="245" width="3" height="7" fill="#ef5350"/>
<rect x="541" y="239" width="1" height="15" fill="#26a69a"/>
<rect x="540" y="246" width="3" height="7" fill="#26a69a"/>
<rect x="545" y="234" width="1" height="26" fill="#26a69a"/>
<rect x="544" y="236" width="3" height="17" fill="#26a69a"/>
<rect x="550" y="224" width="1" height="28" fill="#ef5350"/>
<rect x="549" y="235" width="3" height="6" fill="#ef5350"/>
<rect x="555" y="222" width="1" height="28" fill="#26a69a"/>
<rect x="554" y="238" width="3" height="6" fill="#26a69a"/>
<rect x="559" y="227" width="1" height="12" fill="#ef5350"/>
<rect x="558" y="237" width="3" height="2" fill="#ef5350"/>
<rect x="564" y="226" width="1" height="14" fill="#ef5350"/>
<rect x="563" y="231" width="3" height="2" fill="#ef5350"/>
<rect x="569" y="233" width="1" height="9" fill="#ef5350"/>
<rect x="568" y="233" width="3" height="4" fill="#ef5350"/>
<rect x="573" y="221" width="1" height="24" fill="#26a69a"/>
<rect x="572" y="232" width="3" height="5" fill="#26a69a"/>
<rect x="578" y="200" width="1" height="41" fill="#26a69a"/>
<rect x="577" y="220" width="3" height="15" fill="#26a69a"/>
<rect x="583" y="191" width="1" height="30" fill="#26a69a"/>
<rect x="582" y="202" width="3" height="17" fill="#26a69a"/>
<rect x="587" y="191" width="1" height="28" fill="#26a69a"/>
<rect x="586" y="201" width="3" height="6" fill="#26a69a"/>
<rect x="592" y="193" width="1" height="31" fill="#ef5350"/>
<rect x="591" y="202" width="3" height="12" fill="#ef5350"/>
<rect x="597" y="203" width="1" height="15" fill="#ef5350"/>
<rect x="596" y="213" width="3" height="5" fill="#ef5350"/>
<rect x="601" y="200" width="1" height="20" fill="#26a69a"/>
<rect x="600" y="211" width="3" height="5" fill="#26a69a"/>
<rect x="606" y="174" width="1" height="344" fill="#26a69a"/>
<rect x="605" y="193" width="3" height="16" fill="#26a69a"/>
<rect x="611" y="193" width="1" height="56" fill="#ef5350"/>
<rect x="610" y="195" width="3" height="43" fill="#ef5350"/>
<rect x="615" y="220" width="1" height="31" fill="#26a69a"/>
<rect x="614" y="236" width="3" height="6" fill="#26a69a"/>
<rect x="620" y="207" width="1" height="26" fill="#26a69a"/>
<rect x="619" y="222" width="3" height="11" fill="#26a69a"/>
<rect x="625" y="217" width="1" height="29" fill="#ef5350"/>
<rect x="624" y="222" width="3" height="18" fill="#ef5350"/>
<rect x="630" y="229" width="1" height="27" fill="#ef5350"/>
<rect x="629" y="239" width="3" height="14" fill="#ef5350"/>
<rect x="634" y="240" width="1" height="33" fill="#ef5350"/>
<rect x="633" y="252" width="3" height="16" fill="#ef5350"/>
<rect x="639" y="250" width="1" height="22" fill="#ef5350"/>
<rect x="638" y="267" width="3" height="1" fill="#ef5350"/>
<rect x="644" y="254" width="1" height="34" fill="#ef5350"/>
<rect x="643" y="265" width="3" height="5" fill="#ef5350"/>
<rect x="648" y="231" width="1" height="53" fill="#26a69a"/>
<rect x="647" y="237" width="3" height="33" fill="#26a69a"/>
<rect x="653" y="229" width="1" height="24" fill="#ef5350"/>
<rect x="652" y="238" width="3" height="8" fill="#ef5350"/>
<rect x="658" y="236" width="1" height="19" fill="#ef5350"/>
<rect x="657" y="246" width="3" height="8" fill="#ef5350"/>
<rect x="662" y="238" width="1" height="18" fill="#26a69a"/>
<rect x="661" y="244" width="3" height="7" fill="#26a69a"/>
<rect x="667" y="242" width="1" height="37" fill="#ef5350"/>
<rect x="666" y="245" width="3" height="21" fill="#ef5350"/>
<rect x="672" y="242" width="1" height="32" fill="#26a69a"/>
<rect x="671" y="255" width="3" height="16" fill="#26a69a"/>
<rect x="676" y="221" width="1" height="40" fill="#26a69a"/>
<rect x="675" y="233" width="3" height="18" fill="#26a69a"/>
<rect x="681" y="203" width="1" height="35" fill="#26a69a"/>
<rect x="680" y="208" width="3" height="29" fill="#26a69a"/>
<rect x="686" y="199" width="1" height="30" fill="#26a69a"/>
<rect x="685" y="214" width="3" height="1" fill="#26a69a"/>
<rect x="690" y="207" width="1" height="29" fill="#ef5350"/>
<rect x="689" y="213" width="3" height="10" fill="#ef5350"/>
<rect x="695" y="171" width="1" height="62" fill="#ef5350"/>
<rect x="694" y="216" width="3" height="8" fill="#ef5350"/>
<rect x="700" y="189" width="1" height="41" fill="#ef5350"/>
<rect x="699" y="224" width="3" height="2" fill="#ef5350"/>
<rect x="704" y="194" width="1" height="42" fill="#26a69a"/>
<rect x="703" y="210" width="3" height="10" fill="#26a69a"/>
<rect x="709" y="206" width="1" height="22" fill="#ef5350"/>
<rect x="708" y="211" width="3" height="11" fill="#ef5350"/>
<rect x="714" y="211" width="1" height="26" fill="#ef5350"/>
<rect x="713" y="221" width="3" height="16" fill="#ef5350"/>
<rect x="718" y="220" width="1" height="28" fill="#ef5350"/>
<rect x="717" y="224" width="3" height="24" fill="#ef5350"/>
<rect x="723" y="222" width="1" height="27" fill="#26a69a"/>
<rect x="722" y="230" width="3" height="18" fill="#26a69a"/>
<rect x="728" y="228" width="1" height="26" fill="#ef5350"/>
<rect x="727" y="243" width="3" height="6" fill="#ef5350"/>
<rect x="732" y="233" width="1" height="20" fill="#26a69a"/>
<rect x="731" y="240" width="3" height="13" fill="#26a69a"/>
<rect x="737" y="236" width="1" height="14" fill="#ef5350"/>
<rect x="736" y="237" width="3" height="8" fill="#ef5350"/>
<rect x="742" y="236" width="1" height="15" fill="#ef5350"/>
<rect x="741" y="237" width="3" height="6" fill="#ef5350"/>
<rect x="746" y="235" width="1" height="20" fill="#ef5350"/>
<rect x="745" y="242" width="3" height="2" fill="#ef5350"/>
<rect x="751" y="231" width="1" height="28" fill="#26a69a"/>
<rect x="750" y="247" width="3" height="1" fill="#26a69a"/>
<rect x="756" y="213" width="1" height="31" fill="#26a69a"/>
<rect x="755" y="241" width="3" height="1" fill="#26a69a"/>
<rect x="760" y="226" width="1" height="21" fill="#26a69a"/>
<rect x="759" y="233" width="3" height="11" fill="#26a69a"/>
<rect x="765" y="225" width="1" height="17" fill="#26a69a"/>
<rect x="764" y="234" width="3" height="7" fill="#26a69a"/>
<rect x="770" y="214" width="1" height="28" fill="#26a69a"/>
<rect x="769" y="229" width="3" height="2" fill="#26a69a"/>
<rect x="774" y="218" width="1" height="35" fill="#ef5350"/>
<rect x="773" y="222" width="3" height="19" fill="#ef5350"/>
<rect x="779" y="224" width="1" height="29" fill="#ef5350"/>
<rect x="778" y="230" width="3" height="8" fill="#ef5350"/>
<rect x="784" y="212" width="1" height="31" fill="#26a69a"/>
<rect x="783" y="212" width="3" height="31" fill="#26a69a"/>
<rect x="788" y="200" width="1" height="23" fill="#ef5350"/>
<rect x="787" y="215" width="3" height="5" fill="#ef5350"/>
<rect x="793" y="212" width="1" height="23" fill="#26a69a"/>
<rect x="792" y="217" width="3" height="1" fill="#26a69a"/>
<rect x="798" y="216" width="1" height="15" fill="#26a69a"/>
<rect x="797" y="219" width="3" height="3" fill="#26a69a"/>
<rect x="802" y="217" width="1" height="12" fill="#ef5350"/>
<rect x="801" y="221" width="3" height="5" fill="#ef5350"/>
<rect x="807" y="223" width="1" height="18" fill="#26a69a"/>
<rect x="806" y="223" width="3" height="6" fill="#26a69a"/>
<rect x="812" y="217" width="1" height="19" fill="#26a69a"/>
<rect x="811" y="221" width="3" height="8" fill="#26a69a"/>
<rect x="816" y="195" width="1" height="42" fill="#26a69a"/>
<rect x="815" y="209" width="3" height="14" fill="#26a69a"/>
<rect x="821" y="195" width="1" height="28" fill="#26a69a"/>
<rect x="820" y="204" width="3" height="6" fill="#26a69a"/>
<rect x="826" y="194" width="1" height="26" fill="#ef5350"/>
<rect x="825" y="204" width="3" height="3" fill="#ef5350"/>
<rect x="830" y="175" width="1" height="32" fill="#26a69a"/>
<rect x="829" y="178" width="3" height="28" fill="#26a69a"/>
<rect x="835" y="174" width="1" height="26" fill="#ef5350"/>
<rect x="834" y="181" width="3" height="6" fill="#ef5350"/>
<rect x="840" y="181" width="1" height="18" fill="#ef5350"/>
<rect x="839" y="186" width="3" height="3" fill="#ef5350"/>
<rect x="844" y="144" width="1" height="59" fill="#26a69a"/>
<rect x="843" y="159" width="3" height="36" fill="#26a69a"/>
<rect x="849" y="123" width="1" height="37" fill="#26a69a"/>
<rect x="848" y="123" width="3" height="36" fill="#26a69a"/>
<rect x="854" y="115" width="1" height="23" fill="#26a69a"/>
<rect x="853" y="126" width="3" height="2" fill="#26a69a"/>
<rect x="859" y="96" width="1" height="50" fill="#26a69a"/>
<rect x="858" y="126" width="3" height="1" fill="#26a69a"/>
<rect x="863" y="122" width="1" height="34" fill="#ef5350"/>
<rect x="862" y="123" width="3" height="14" fill="#ef5350"/>
<rect x="868" y="120" width="1" height="40" fill="#ef5350"/>
<rect x="867" y="129" width="3" height="25" fill="#ef5350"/>
<rect x="873" y="136" width="1" height="38" fill="#26a69a"/>
<rect x="872" y="144" width="3" height="9" fill="#26a69a"/>
<rect x="877" y="124" width="1" height="26" fill="#ef5350"/>
<rect x="876" y="141" width="3" height="1" fill="#ef5350"/>
<rect x="882" y="121" width="1" height="29" fill="#26a69a"/>
<rect x="881" y="137" width="3" height="8" fill="#26a69a"/>
<rect x="887" y="129" width="1" height="38" fill="#ef5350"/>
<rect x="886" y="131" width="3" height="26" fill="#ef5350"/>
<rect x="891" y="139" width="1" height="25" fill="#ef5350"/>
<rect x="890" y="158" width="3" height="1" fill="#ef5350"/>
<rect x="896" y="156" width="1" height="20" fill="#ef5350"/>
<rect x="895" y="158" width="3" height="14" fill="#ef5350"/>
<rect x="901" y="118" width="1" height="55" fill="#26a69a"/>
<rect x="900" y="133" width="3" height="32" fill="#26a69a"/>
<rect x="905" y="114" width="1" height="27" fill="#26a69a"/>
<rect x="904" y="119" width="3" height="1" fill="#26a69a"/>
<rect x="910" y="107" width="1" height="29" fill="#26a69a"/>
<rect x="909" y="115" width="3" height="4" fill="#26a69a"/>
<rect x="915" y="95" width="1" height="34" fill="#26a69a"/>
<rect x="914" y="106" width="3" height="16" fill="#26a69a"/>
<rect x="919" y="95" width="1" height="24" fill="#ef5350"/>
<rect x="918" y="108" width="3" height="8" fill="#ef5350"/>
<rect x="924" y="103" width="1" height="28" fill="#ef5350"/>
<rect x="923" y="111" width="3" height="15" fill="#ef5350"/>
<rect x="929" y="105" width="1" height="26" fill="#26a69a"/>
<rect x="928" y="120" width="3" height="2" fill="#26a69a"/>
<rect x="933" y="109" width="1" height="21" fill="#ef5350"/>
<rect x="932" y="119" width="3" height="7" fill="#ef5350"/>
<rect x="938" y="113" width="1" height="14" fill="#26a69a"/>
<rect x="937" y="121" width="3" height="3" fill="#26a69a"/>
<rect x="943" y="107" width="1" height="25" fill="#26a69a"/>
<rect x="942" y="115" width="3" height="6" fill="#26a69a"/>
<rect x="947" y="96" width="1" height="25" fill="#26a69a"/>
<rect x="946" y="105" width="3" height="5" fill="#26a69a"/>
<rect x="952" y="88" width="1" height="25" fill="#26a69a"/>
<rect x="951" y="93" width="3" height="13" fill="#26a69a"/>
<rect x="957" y="87" width="1" height="21" fill="#ef5350"/>
<rect x="956" y="98" width="3" height="7" fill="#ef5350"/>
<rect x="961" y="91" width="1" height="17" fill="#ef5350"/>
<rect x="960" y="92" width="3" height="16" fill="#ef5350"/>
<rect x="966" y="83" width="1" height="33" fill="#26a69a"/>
<rect x="965" y="101" width="3" height="3" fill="#26a69a"/>
<rect x="971" y="81" width="1" height="34" fill="#ef5350"/>
<rect x="970" y="97" width="3" height="9" fill="#ef5350"/>
<rect x="975" y="90" width="1" height="32" fill="#ef5350"/>
<rect x="974" y="104" width="3" height="4" fill="#ef5350"/>
<rect x="980" y="104" width="1" height="38" fill="#ef5350"/>
<rect x="979" y="113" width="3" height="17" fill="#ef5350"/>
<rect x="985" y="127" width="1" height="28" fill="#ef5350"/>
<rect x="984" y="131" width="3" height="13" fill="#ef5350"/>
<rect x="989" y="132" width="1" height="58" fill="#ef5350"/>
<rect x="988" y="144" width="3" height="1" fill="#ef5350"/>
<rect x="994" y="90" width="1" height="58" fill="#26a69a"/>
<rect x="993" y="113" width="3" height="21" fill="#26a69a"/>
<rect x="999" y="83" width="1" height="66" fill="#ef5350"/>
<rect x="998" y="106" width="3" height="19" fill="#ef5350"/>
<rect x="1003" y="94" width="1" height="56" fill="#ef5350"/>
<rect x="1002" y="120" width="3" height="11" fill="#ef5350"/>
<rect x="1008" y="111" width="1" height="42" fill="#26a69a"/>
<rect x="1007" y="111" width="3" height="22" fill="#26a69a"/>
<rect x="1013" y="116" width="1" height="39" fill="#ef5350"/>
<rect x="1012" y="122" width="3" height="25" fill="#ef5350"/>
<rect x="1017" y="135" width="1" height="26" fill="#26a69a"/>
<rect x="1016" y="140" width="3" height="9" fill="#26a69a"/>
<rect x="1022" y="127" width="1" height="27" fill="#26a69a"/>
<rect x="1021" y="142" width="3" height="3" fill="#26a69a"/>
<rect x="1027" y="99" width="1" height="45" fill="#26a69a"/>
<rect x="1026" y="126" width="3" height="9" fill="#26a69a"/>
<rect x="1031" y="94" width="1" height="49" fill="#26a69a"/>
<rect x="1030" y="131" width="3" height="4" fill="#26a69a"/>
<rect x="1036" y="127" width="1" height="47" fill="#ef5350"/>
<rect x="1035" y="127" width="3" height="43" fill="#ef5350"/>
<rect x="1041" y="153" width="1" height="32" fill="#ef5350"/>
<rect x="1040" y="165" width="3" height="11" fill="#ef5350"/>
<rect x="1045" y="169" width="1" height="41" fill="#ef5350"/>
<rect x="1044" y="179" width="3" height="27" fill="#ef5350"/>
<rect x="1050" y="183" width="1" height="29" fill="#ef5350"/>
<rect x="1049" y="199" width="3" height="2" fill="#ef5350"/>
<rect x="1055" y="179" width="1" height="26" fill="#26a69a"/>
<rect x="1054" y="182" width="3" height="23" fill="#26a69a"/>
<rect x="1059" y="180" width="1" height="25" fill="#ef5350"/>
<rect x="1058" y="188" width="3" height="17" fill="#ef5350"/>
<rect x="1064" y="173" width="1" height="33" fill="#26a69a"/>
<rect x="1063" y="178" width="3" height="28" fill="#26a69a"/>
<rect x="1069" y="166" width="1" height="38" fill="#ef5350"/>
<rect x="1068" y="187" width="3" height="12" fill="#ef5350"/>
<rect x="1074" y="196" width="1" height="33" fill="#ef5350"/>
<rect x="1073" y="200" width="3" height="29" fill="#ef5350"/>
<rect x="1078" y="211" width="1" height="18" fill="#26a69a"/>
<rect x="1077" y="226" width="3" height="3" fill="#26a69a"/>
<rect x="1083" y="214" width="1" height="31" fill="#ef5350"/>
<rect x="1082" y="228" width="3" height="15" fill="#ef5350"/>
<rect x="1088" y="221" width="1" height="25" fill="#ef5350"/>
<rect x="1087" y="232" width="3" height="5" fill="#ef5350"/>
<rect x="1092" y="199" width="1" height="39" fill="#26a69a"/>
<rect x="1091" y="209" width="3" height="22" fill="#26a69a"/>
<rect x="1097" y="193" width="1" height="27" fill="#26a69a"/>
<rect x="1096" y="202" width="3" height="17" fill="#26a69a"/>
<rect x="1102" y="182" width="1" height="27" fill="#26a69a"/>
<rect x="1101" y="193" width="3" height="5" fill="#26a69a"/>
<rect x="1106" y="187" width="1" height="21" fill="#26a69a"/>
<rect x="1105" y="195" width="3" height="4" fill="#26a69a"/>
<rect x="1111" y="195" width="1" height="39" fill="#ef5350"/>
<rect x="1110" y="203" width="3" height="12" fill="#ef5350"/>
<rect x="1116" y="204" width="1" height="31" fill="#26a69a"/>
<rect x="1115" y="213" width="3" height="3" fill="#26a69a"/>
<rect x="1120" y="198" width="1" height="27" fill="#ef5350"/>
<rect x="1119" y="213" width="3" height="2" fill="#ef5350"/>
<rect x="1125" y="195" width="1" height="21" fill="#26a69a"/>
<rect x="1124" y="195" width="3" height="17" fill="#26a69a"/>
<rect x="1130" y="203" width="1" height="14" fill="#26a69a"/>
<rect x="1129" y="210" width="3" height="7" fill="#26a69a"/>
<rect x="1134" y="196" width="1" height="21" fill="#ef5350"/>
<rect x="1133" y="206" width="3" height="6" fill="#ef5350"/>
<rect x="1139" y="197" width="1" height="17" fill="#26a69a"/>
<rect x="1138" y="203" width="3" height="5" fill="#26a69a"/>
<rect x="1144" y="192" width="1" height="21" fill="#26a69a"/>
<rect x="1143" y="198" width="3" height="9" fill="#26a69a"/>
<rect x="1148" y="183" width="1" height="25" fill="#ef5350"/>
<rect x="1147" y="197" width="3" height="4" fill="#ef5350"/>
<rect x="1153" y="184" width="1" height="24" fill="#ef5350"/>
<rect x="1152" y="194" width="3" height="5" fill="#ef5350"/>
<rect x="1158" y="190" width="1" height="9" fill="#ef5350"/>
<rect x="1157" y="190" width="3" height="6" fill="#ef5350"/>
<rect x="1162" y="188" width="1" height="19" fill="#ef5350"/>
<rect x="1161" y="198" width="3" height="8" fill="#ef5350"/>
<rect x="1167" y="180" width="1" height="27" fill="#26a69a"/>
<rect x="1166" y="197" width="3" height="7" fill="#26a69a"/>
<rect x="1172" y="183" width="1" height="46" fill="#ef5350"/>
<rect x="1171" y="186" width="3" height="11" fill="#ef5350"/>
<rect x="1176" y="177" width="1" height="22" fill="#26a69a"/>
<rect x="1175" y="180" width="3" height="19" fill="#26a69a"/>
<rect x="1181" y="152" width="1" height="37" fill="#26a69a"/>
<rect x="1180" y="165" width="3" height="18" fill="#26a69a"/>
<rect x="1186" y="158" width="1" height="10" fill="#ef5350"/>
<rect x="1185" y="158" width="3" height="8" fill="#ef5350"/>
<rect x="1190" y="161" width="1" height="10" fill="#ef5350"/>
<rect x="1189" y="162" width="3" height="1" fill="#ef5350"/>
<rect x="1195" y="140" width="1" height="28" fill="#26a69a"/>
<rect x="1194" y="145" width="3" height="23" fill="#26a69a"/>
<rect x="1200" y="143" width="1" height="28" fill="#ef5350"/>
<rect x="1199" y="148" width="3" height="12" fill="#ef5350"/>
<rect x="1204" y="145" width="1" height="29" fill="#26a69a"/>
<rect x="1203" y="155" width="3" height="5" fill="#26a69a"/>
<rect x="1209" y="135" width="1" height="30" fill="#ef5350"/>
<rect x="1208" y="153" width="3" height="9" fill="#ef5350"/>
<rect x="1214" y="157" width="1" height="18" fill="#ef5350"/>
<rect x="1213" y="161" width="3" height="10" fill="#ef5350"/>
<rect x="1218" y="167" width="1" height="10" fill="#ef5350"/>
<rect x="1217" y="172" width="3" height="5" fill="#ef5350"/>
<rect x="1223" y="150" width="1" height="31" fill="#26a69a"/>
<rect x="1222" y="166" width="3" height="13" fill="#26a69a"/>
<rect x="1228" y="159" width="1" height="26" fill="#ef5350"/>
<rect x="1227" y="169" width="3" height="4" fill="#ef5350"/>
<rect x="1232" y="165" width="1" height="40" fill="#ef5350"/>
<rect x="1231" y="174" width="3" height="25" fill="#ef5350"/>
<rect x="1237" y="187" width="1" height="23" fill="#ef5350"/>
<rect x="1236" y="199" width="3" height="8" fill="#ef5350"/>
<rect x="1242" y="198" width="1" height="17" fill="#ef5350"/>
<rect x="1241" y="207" width="3" height="8" fill="#ef5350"/>
<rect x="1246" y="206" width="1" height="11" fill="#26a69a"/>
<rect x="1245" y="213" width="3" height="2" fill="#26a69a"/>
<rect x="1251" y="197" width="1" height="20" fill="#ef5350"/>
<rect x="1250" y="210" width="3" height="3" fill="#ef5350"/>
<rect x="1256" y="198" width="1" height="31" fill="#ef5350"/>
<rect x="1255" y="202" width="3" height="13" fill="#ef5350"/>
<rect x="1260" y="201" width="1" height="28" fill="#26a69a"/>
<rect x="1259" y="206" width="3" height="9" fill="#26a69a"/>
<rect x="1265" y="165" width="1" height="44" fill="#26a69a"/>
<rect x="1264" y="171" width="3" height="37" fill="#26a69a"/>
<rect x="1270" y="169" width="1" height="22" fill="#ef5350"/>
<rect x="1269" y="177" width="3" height="13" fill="#ef5350"/>
<rect x="1274" y="177" width="1" height="15" fill="#ef5350"/>
<rect x="1273" y="185" width="3" height="7" fill="#ef5350"/>
<rect x="1279" y="171" width="1" height="29" fill="#26a69a"/>
<rect x="1278" y="186" width="3" height="6" fill="#26a69a"/>
<rect x="1284" y="175" width="1" height="26" fill="#ef5350"/>
<rect x="1283" y="186" width="3" height="10" fill="#ef5350"/>
<rect x="1288" y="160" width="1" height="38" fill="#26a69a"/>
<rect x="1287" y="173" width="3" height="25" fill="#26a69a"/>
<rect x="1293" y="145" width="1" height="40" fill="#ef5350"/>
<rect x="1292" y="173" width="3" height="6" fill="#ef5350"/>
<rect x="1298" y="173" width="1" height="17" fill="#26a69a"/>
<rect x="1297" y="177" width="3" height="3" fill="#26a69a"/>
<rect x="1303" y="162" width="1" height="14" fill="#26a69a"/>
<rect x="1302" y="168" width="3" height="2" fill="#26a69a"/>
<rect x="1307" y="164" width="1" height="21" fill="#ef5350"/>
<rect x="1306" y="172" width="3" height="3" fill="#ef5350"/>
<rect x="1312" y="166" width="1" height="13" fill="#ef5350"/>
<rect x="1311" y="169" width="3" height="6" fill="#ef5350"/>
<rect x="1317" y="169" width="1" height="9" fill="#ef5350"/>
<rect x="1316" y="175" width="3" height="1" fill="#ef5350"/>
<rect x="1321" y="170" width="1" height="9" fill="#ef5350"/>
<rect x="1320" y="174" width="3" height="4" fill="#ef5350"/>
<rect x="1326" y="162" width="1" height="18" fill="#26a69a"/>
<rect x="1325" y="174" width="3" height="5" fill="#26a69a"/>
<rect x="1331" y="170" width="1" height="7" fill="#ef5350"/>
<rect x="1330" y="170" width="3" height="7" fill="#ef5350"/>
<rect x="1335" y="171" width="1" height="12" fill="#26a69a"/>
<rect x="1334" y="171" width="3" height="4" fill="#26a69a"/>
<rect x="1340" y="162" width="1" height="11" fill="#26a69a"/>
<rect x="1339" y="172" width="3" height="1" fill="#26a69a"/>
<rect x="1345" y="169" width="1" height="5" fill="#ef5350"/>
<rect x="1344" y="172" width="3" height="1" fill="#ef5350"/>
<rect x="1349" y="173" width="1" height="8" fill="#ef5350"/>
<rect x="1348" y="173" width="3" height="5" fill="#ef5350"/>
<rect x="1354" y="177" width="1" height="4" fill="#26a69a"/>
<rect x="1353" y="178" width="3" height="1" fill="#26a69a"/>
</g>
<line x1="13" y1="178.5" x2="1403" y2="178.5" stroke="#26a69a" stroke-width="1" stroke-dasharray="1,2"/>
<rect x="14" y="586.6" width="1389" height="63.8" fill="#2196f3" fill-opacity="0.1"/>
<line x1="13" y1="586.5" x2="1403" y2="586.5" stroke="#686b76" stroke-width="1" stroke-dasharray="5,6" shape-rendering="crispEdges"/>
<line x1="13" y1="618.5" x2="1403" y2="618.5" stroke="#a3a6af" stroke-width="1" stroke-dasharray="5,6" shape-rendering="crispEdges"/>
<line x1="13" y1="650.5" x2="1403" y2="650.5" stroke="#686b76" stroke-width="1" stroke-dasharray="5,6" shape-rendering="crispEdges"/>
<polyline clip-path="url(#cs)" points="13.1,588.2 17.1,592.2 22.1,592.5 27.1,588.5 31.1,591.4 36.1,602.9 41.1,615.0 45.1,619.8 50.1,623.8 55.1,615.0 59.1,631.5 64.1,619.8 69.1,606.9 73.1,574.0 78.1,564.7 83.1,564.7 87.1,570.0 92.1,586.9 97.1,598.9 101.1,624.1 106.1,629.4 111.1,648.2 115.1,636.6 120.1,635.5 125.1,632.3 129.1,638.2 134.1,646.6 139.1,647.8 143.1,648.3 148.1,646.6 153.1,641.7 157.1,641.4 162.1,619.8 167.1,604.5 171.1,579.2 176.1,595.7 181.1,587.7 186.1,588.2 190.1,576.9 195.1,586.1 200.1,589.3 204.1,577.3 209.1,568.9 214.1,564.7 218.1,570.8 223.1,574.0 228.1,574.0 232.1,567.6 237.1,564.7 242.1,564.7 246.1,582.1 251.1,602.1 256.1,627.8 260.1,636.6 265.1,655.9 270.1,653.5 274.1,649.1 279.1,633.4 284.1,640.6 288.1,651.1 293.1,659.1 298.1,652.7 302.1,641.4 307.1,631.8 312.1,634.2 316.1,645.4 321.1,663.9 326.1,665.8 330.1,669.8 335.1,667.1 340.1,661.5 344.1,651.1 349.1,640.6 354.1,646.2 358.1,658.3 363.1,667.1 368.1,656.2 372.1,648.6 377.1,619.8 382.1,599.4 386.1,582.9 391.1,574.8 396.1,592.5 401.1,588.5 405.1,602.1 410.1,622.2 415.1,644.6 419.1,665.2 424.1,665.5 429.1,670.8 433.1,670.0 438.1,668.7 443.1,665.2 447.1,662.6 452.1,658.6 457.1,656.3 461.1,639.8 466.1,615.8 471.1,590.1 475.1,585.3 480.1,581.7 485.1,581.3 489.1,574.0 494.1,569.6 499.1,575.3 503.1,576.5 508.1,574.8 513.1,569.2 517.1,573.2 522.1,586.1 527.1,597.3 531.1,604.5 536.1,611.7 541.1,619.0 545.1,625.4 550.1,632.6 555.1,638.2 559.1,641.1 564.1,637.4 569.1,640.1 573.1,639.0 578.1,611.7 583.1,586.1 587.1,564.7 592.1,589.3 597.1,612.5 601.1,632.6 606.1,621.4 611.1,630.2 615.1,641.4 620.1,661.5 625.1,662.0 630.1,663.1 634.1,670.8 639.1,670.8 644.1,670.3 648.1,655.9 653.1,645.9 658.1,639.0 662.1,641.1 667.1,647.8 672.1,641.4 676.1,622.2 681.1,588.5 686.1,572.8 690.1,577.3 695.1,586.1 700.1,594.1 704.1,589.3 709.1,591.7 714.1,602.9 718.1,631.8 723.1,639.0 728.1,645.9 732.1,643.0 737.1,655.5 742.1,654.7 746.1,656.7 751.1,659.4 756.1,656.7 760.1,644.6 765.1,630.2 770.1,605.6 774.1,610.6 779.1,609.3 784.1,605.8 788.1,591.7 793.1,581.7 798.1,591.4 802.1,599.7 807.1,608.1 812.1,609.8 816.1,592.5 821.1,578.1 826.1,568.7 830.1,568.7 835.1,575.6 840.1,581.7 844.1,581.7 849.1,574.0 854.1,566.8 859.1,569.6 863.1,578.9 868.1,594.9 873.1,613.4 877.1,630.5 882.1,630.5 887.1,644.6 891.1,656.7 896.1,670.8 901.1,655.9 905.1,636.6 910.1,617.4 915.1,608.2 919.1,609.0 924.1,612.5 929.1,615.8 933.1,618.2 938.1,615.0 943.1,614.2 947.1,599.7 952.1,585.8 957.1,585.0 961.1,604.5 966.1,626.2 971.1,641.4 975.1,647.8 980.1,662.3 985.1,668.7 989.1,670.8 994.1,654.3 999.1,643.8 1003.1,634.5 1008.1,634.5 1013.1,644.6 1017.1,647.8 1022.1,660.7 1027.1,648.6 1031.1,641.4 1036.1,646.2 1041.1,659.1 1045.1,670.8 1050.1,667.9 1055.1,655.9 1059.1,650.3 1064.1,636.6 1069.1,637.1 1074.1,639.0 1078.1,651.1 1083.1,661.5 1088.1,662.0 1092.1,646.2 1097.1,611.7 1102.1,578.9 1106.1,566.0 1111.1,578.1 1116.1,589.3 1120.1,601.0 1125.1,588.5 1130.1,585.3 1134.1,582.9 1139.1,585.8 1144.1,576.9 1148.1,569.6 1153.1,566.0 1158.1,566.0 1162.1,581.7 1167.1,583.3 1172.1,583.3 1176.1,566.8 1181.1,564.7 1186.1,564.7 1190.1,564.7 1195.1,564.7 1200.1,577.3 1204.1,587.4 1209.1,600.5 1214.1,609.7 1218.1,627.0 1223.1,632.6 1228.1,640.6 1232.1,649.4 1237.1,664.2 1242.1,670.8 1246.1,669.8 1251.1,667.9 1256.1,667.1 1260.1,660.7 1265.1,633.4 1270.1,610.1 1274.1,598.1 1279.1,602.1 1284.1,606.1 1288.1,595.2 1293.1,590.9 1298.1,578.9 1303.1,576.5 1307.1,574.5 1312.1,574.5 1317.1,580.5 1321.1,585.3 1326.1,592.5 1331.1,598.9 1335.1,594.9 1340.1,592.5 1345.1,586.9 1349.1,615.8 1354.1,643.8" fill="none" stroke="#2962ff" stroke-width="1.2" stroke-linejoin="round"/>
<polyline clip-path="url(#cs)" points="13.1,579.2 17.1,586.2 22.1,590.9 27.1,591.0 31.1,590.8 36.1,594.3 41.1,603.1 45.1,612.5 50.1,619.5 55.1,619.5 59.1,623.4 64.1,622.1 69.1,619.4 73.1,600.2 78.1,581.9 83.1,567.8 87.1,566.5 92.1,573.9 97.1,585.3 101.1,603.3 106.1,617.5 111.1,633.9 115.1,638.1 120.1,640.1 125.1,634.8 129.1,635.3 134.1,639.0 139.1,644.2 143.1,647.6 148.1,647.6 153.1,645.5 157.1,643.2 162.1,634.3 167.1,621.9 171.1,601.2 176.1,593.1 181.1,587.5 186.1,590.5 190.1,584.3 195.1,583.7 200.1,584.1 204.1,584.2 209.1,578.5 214.1,570.3 218.1,568.2 223.1,569.9 228.1,573.0 232.1,571.9 237.1,568.8 242.1,565.7 246.1,570.5 251.1,583.0 256.1,604.0 260.1,622.2 265.1,640.1 270.1,648.6 274.1,652.8 279.1,645.3 284.1,641.1 288.1,641.7 293.1,650.3 298.1,654.3 302.1,651.1 307.1,642.0 312.1,635.8 316.1,637.1 321.1,647.8 326.1,658.4 330.1,666.5 335.1,667.6 340.1,666.1 344.1,659.9 349.1,651.1 354.1,646.0 358.1,648.4 363.1,657.2 368.1,660.5 372.1,657.3 377.1,641.5 382.1,622.6 386.1,600.7 391.1,585.7 396.1,583.4 401.1,585.3 405.1,594.4 410.1,604.3 415.1,623.0 419.1,644.0 424.1,658.4 429.1,667.2 433.1,668.8 438.1,669.8 443.1,668.0 447.1,665.5 452.1,662.1 457.1,659.2 461.1,651.6 466.1,637.3 471.1,615.2 475.1,597.0 480.1,585.7 485.1,582.8 489.1,579.0 494.1,575.0 499.1,573.0 503.1,573.8 508.1,575.5 513.1,573.5 517.1,572.4 522.1,576.2 527.1,585.5 531.1,596.0 536.1,604.5 541.1,611.7 545.1,618.7 550.1,625.7 555.1,632.1 559.1,637.3 564.1,638.9 569.1,639.6 573.1,638.9 578.1,630.3 583.1,612.3 587.1,587.5 592.1,580.0 597.1,588.9 601.1,611.5 606.1,622.2 611.1,628.1 615.1,631.0 620.1,644.4 625.1,655.0 630.1,662.2 634.1,665.3 639.1,668.2 644.1,670.6 648.1,665.7 653.1,657.4 658.1,646.9 662.1,642.0 667.1,642.7 672.1,643.5 676.1,637.1 681.1,617.4 686.1,594.5 690.1,579.5 695.1,578.7 700.1,585.8 704.1,589.8 709.1,591.7 714.1,594.6 718.1,608.8 723.1,624.6 728.1,638.9 732.1,642.7 737.1,648.2 742.1,651.1 746.1,655.7 751.1,656.9 756.1,657.6 760.1,653.6 765.1,643.8 770.1,626.8 774.1,615.5 779.1,608.5 784.1,608.6 788.1,602.3 793.1,593.1 798.1,588.3 802.1,590.9 807.1,599.7 812.1,605.9 816.1,603.5 821.1,593.5 826.1,579.8 830.1,571.9 835.1,571.0 840.1,575.4 844.1,579.7 849.1,579.2 854.1,574.2 859.1,570.1 863.1,571.7 868.1,581.1 873.1,595.7 877.1,612.9 882.1,624.8 887.1,635.2 891.1,643.9 896.1,657.4 901.1,661.1 905.1,654.4 910.1,636.6 915.1,620.7 919.1,611.5 924.1,609.9 929.1,612.4 933.1,615.5 938.1,616.3 943.1,615.8 947.1,609.6 952.1,599.9 957.1,590.1 961.1,591.7 966.1,605.2 971.1,624.0 975.1,638.5 980.1,650.5 985.1,659.6 989.1,667.3 994.1,664.6 999.1,656.3 1003.1,644.2 1008.1,637.6 1013.1,637.9 1017.1,642.3 1022.1,651.1 1027.1,652.4 1031.1,650.3 1036.1,645.4 1041.1,648.9 1045.1,658.7 1050.1,665.9 1055.1,664.9 1059.1,658.0 1064.1,647.6 1069.1,641.3 1074.1,637.6 1078.1,642.4 1083.1,650.5 1088.1,658.2 1092.1,656.6 1097.1,640.0 1102.1,612.3 1106.1,585.5 1111.1,574.3 1116.1,577.8 1120.1,589.4 1125.1,592.9 1130.1,591.6 1134.1,585.5 1139.1,584.6 1144.1,581.9 1148.1,577.4 1153.1,570.8 1158.1,567.2 1162.1,571.3 1167.1,577.0 1172.1,582.8 1176.1,577.8 1181.1,571.6 1186.1,565.4 1190.1,564.7 1195.1,564.7 1200.1,568.9 1204.1,576.5 1209.1,588.4 1214.1,599.2 1218.1,612.4 1223.1,623.1 1228.1,633.4 1232.1,640.9 1237.1,651.4 1242.1,661.5 1246.1,668.3 1251.1,669.5 1256.1,668.3 1260.1,665.2 1265.1,653.7 1270.1,634.7 1274.1,613.9 1279.1,603.5 1284.1,602.1 1288.1,601.2 1293.1,597.4 1298.1,588.3 1303.1,582.1 1307.1,576.6 1312.1,575.2 1317.1,576.5 1321.1,580.1 1326.1,586.1 1331.1,592.2 1335.1,595.4 1340.1,595.4 1345.1,591.4 1349.1,598.4 1354.1,615.5" fill="none" stroke="#ff6d00" stroke-width="1.2" stroke-linejoin="round"/>
<g opacity="0.999">
<text transform="translate(12.8,24.7) scale(1,1.0)" font-size="15.3" fill="#131722" text-anchor="start" textLength="87.2" lengthAdjust="spacingAndGlyphs">adebowalexy</text>
<text transform="translate(105.0,24.7) scale(1,1.0)" font-size="15.3" fill="#131722" text-anchor="start" textLength="64.0" lengthAdjust="spacingAndGlyphs">published</text>
<text transform="translate(173.5,24.7) scale(1,1.0)" font-size="15.3" fill="#131722" text-anchor="start" textLength="16.3" lengthAdjust="spacingAndGlyphs">on</text>
<text transform="translate(194.1,24.7) scale(1,1.0)" font-size="15.3" fill="#131722" text-anchor="start" textLength="118.7" lengthAdjust="spacingAndGlyphs">TradingView.com,</text>
<text transform="translate(317.9,24.7) scale(1,1.0)" font-size="15.3" fill="#131722" text-anchor="start" textLength="23.0" lengthAdjust="spacingAndGlyphs">Jun</text>
<text transform="translate(345.8,24.7) scale(1,1.0)" font-size="15.3" fill="#131722" text-anchor="start" textLength="20.1" lengthAdjust="spacingAndGlyphs">02,</text>
<text transform="translate(371.4,24.7) scale(1,1.0)" font-size="15.3" fill="#131722" text-anchor="start" textLength="31.6" lengthAdjust="spacingAndGlyphs">2024</text>
<text transform="translate(408.2,24.7) scale(1,1.0)" font-size="15.3" fill="#131722" text-anchor="start" textLength="36.3" lengthAdjust="spacingAndGlyphs">17:27</text>
<text transform="translate(449.1,24.7) scale(1,1.0)" font-size="15.3" fill="#131722" text-anchor="start" textLength="27.1" lengthAdjust="spacingAndGlyphs">UTC</text>
<text transform="translate(1413.0,52.7) scale(1,1.0)" font-size="16" fill="#131722" text-anchor="start" textLength="53.0" lengthAdjust="spacingAndGlyphs">0.67500</text>
<text transform="translate(1413.0,114.0) scale(1,1.0)" font-size="16" fill="#131722" text-anchor="start" textLength="53.0" lengthAdjust="spacingAndGlyphs">0.67000</text>
<text transform="translate(1413.0,174.4) scale(1,1.0)" font-size="16" fill="#131722" text-anchor="start" textLength="53.0" lengthAdjust="spacingAndGlyphs">0.66500</text>
<text transform="translate(1413.0,295.3) scale(1,1.0)" font-size="16" fill="#131722" text-anchor="start" textLength="53.0" lengthAdjust="spacingAndGlyphs">0.65500</text>
<text transform="translate(1413.0,355.8) scale(1,1.0)" font-size="16" fill="#131722" text-anchor="start" textLength="53.0" lengthAdjust="spacingAndGlyphs">0.65000</text>
<text transform="translate(1413.0,416.2) scale(1,1.0)" font-size="16" fill="#131722" text-anchor="start" textLength="53.0" lengthAdjust="spacingAndGlyphs">0.64500</text>
<text transform="translate(1413.0,476.7) scale(1,1.0)" font-size="16" fill="#131722" text-anchor="start" textLength="53.0" lengthAdjust="spacingAndGlyphs">0.64000</text>
<text transform="translate(1413.1,549.0) scale(1,1.0)" font-size="16" fill="#131722" text-anchor="start" textLength="44.8" lengthAdjust="spacingAndGlyphs">120.00</text>
<text transform="translate(1413.1,592.4) scale(1,1.0)" font-size="16" fill="#131722" text-anchor="start" textLength="37.0" lengthAdjust="spacingAndGlyphs">80.00</text>
<text transform="translate(1413.1,634.5) scale(1,1.0)" font-size="16" fill="#131722" text-anchor="start" textLength="37.0" lengthAdjust="spacingAndGlyphs">40.00</text>
<text transform="translate(1413.1,676.7) scale(1,1.0)" font-size="16" fill="#131722" text-anchor="start" textLength="28.8" lengthAdjust="spacingAndGlyphs">0.00</text>
<text transform="translate(22.8,58.8) scale(1,1.0)" font-size="16" fill="#131722" text-anchor="start" textLength="68.0" lengthAdjust="spacingAndGlyphs">Australian</text>
<text transform="translate(95.4,58.8) scale(1,1.0)" font-size="16" fill="#131722" text-anchor="start" textLength="38.6" lengthAdjust="spacingAndGlyphs">Dollar</text>
<text transform="translate(140.8,58.8) scale(1,1.0)" font-size="16" fill="#131722" text-anchor="start">/</text>
<text transform="translate(151.8,58.8) scale(1,1.0)" font-size="16" fill="#131722" text-anchor="start" textLength="26.6" lengthAdjust="spacingAndGlyphs">U.S.</text>
<text transform="translate(184.3,58.8) scale(1,1.0)" font-size="16" fill="#131722" text-anchor="start" textLength="42.3" lengthAdjust="spacingAndGlyphs">Dollar,</text>
<text transform="translate(231.8,58.8) scale(1,1.0)" font-size="16" fill="#131722" text-anchor="start" textLength="20.3" lengthAdjust="spacingAndGlyphs">4h,</text>
<text transform="translate(258.0,58.8) scale(1,1.0)" font-size="16" fill="#131722" text-anchor="start" textLength="52.5" lengthAdjust="spacingAndGlyphs">KRAKEN</text>
<text transform="translate(320.0,58.8) scale(1,1.0)" font-size="16" fill="#131722" text-anchor="start" textLength="9.4" lengthAdjust="spacingAndGlyphs">O</text>
<text transform="translate(330.3,58.8) scale(1,1.0)" font-size="16" fill="#26a69a" text-anchor="start" textLength="52.0" lengthAdjust="spacingAndGlyphs">0.66418</text>
<text transform="translate(392.0,58.8) scale(1,1.0)" font-size="16" fill="#131722" text-anchor="start" textLength="8.6" lengthAdjust="spacingAndGlyphs">H</text>
<text transform="translate(401.5,58.8) scale(1,1.0)" font-size="16" fill="#26a69a" text-anchor="start" textLength="52.0" lengthAdjust="spacingAndGlyphs">0.66432</text>
<text transform="translate(464.1,58.8) scale(1,1.0)" font-size="16" fill="#131722" text-anchor="start" textLength="6.0" lengthAdjust="spacingAndGlyphs">L</text>
<text transform="translate(470.9,58.8) scale(1,1.0)" font-size="16" fill="#26a69a" text-anchor="start" textLength="52.0" lengthAdjust="spacingAndGlyphs">0.66401</text>
<text transform="translate(533.0,58.8) scale(1,1.0)" font-size="16" fill="#131722" text-anchor="start" textLength="7.8" lengthAdjust="spacingAndGlyphs">C</text>
<text transform="translate(541.5,58.8) scale(1,1.0)" font-size="16" fill="#26a69a" text-anchor="start" textLength="52.0" lengthAdjust="spacingAndGlyphs">0.66424</text>
<text transform="translate(603.5,58.8) scale(1,1.0)" font-size="16" fill="#26a69a" text-anchor="start" textLength="121.0" lengthAdjust="spacingAndGlyphs">−0.00018 (−0.03%)</text>
<text transform="translate(22.8,80.0) scale(1,1.0)" font-size="16" fill="#131722" text-anchor="start" textLength="26.1" lengthAdjust="spacingAndGlyphs">EMA</text>
<text transform="translate(54.8,80.0) scale(1,1.0)" font-size="16" fill="#131722" text-anchor="start" textLength="102.5" lengthAdjust="spacingAndGlyphs">20/50/100/200</text>
<text transform="translate(166.9,80.0) scale(1,1.0)" font-size="16" fill="#ff0000" text-anchor="start" textLength="51.7" lengthAdjust="spacingAndGlyphs">0.66424</text>
<text transform="translate(228.1,80.0) scale(1,1.0)" font-size="16" fill="#ff7f0e" text-anchor="start" textLength="52.0" lengthAdjust="spacingAndGlyphs">0.66402</text>
<text transform="translate(290.0,80.0) scale(1,1.0)" font-size="16" fill="#00ffff" text-anchor="start" textLength="52.0" lengthAdjust="spacingAndGlyphs">0.66363</text>
<text transform="translate(352.0,80.0) scale(1,1.0)" font-size="16" fill="#0000ff" text-anchor="start" textLength="51.5" lengthAdjust="spacingAndGlyphs">0.66151</text>
<text transform="translate(22.8,543.8) scale(1,1.0)" font-size="16" fill="#131722" text-anchor="start" textLength="36.8" lengthAdjust="spacingAndGlyphs">Stoch</text>
<text transform="translate(64.6,543.8) scale(1,1.0)" font-size="16" fill="#131722" text-anchor="start" textLength="19.9" lengthAdjust="spacingAndGlyphs">RSI</text>
<text transform="translate(89.9,543.8) scale(1,1.0)" font-size="16" fill="#131722" text-anchor="start" textLength="17.7" lengthAdjust="spacingAndGlyphs">(3,</text>
<text transform="translate(112.6,543.8) scale(1,1.0)" font-size="16" fill="#131722" text-anchor="start" textLength="12.7" lengthAdjust="spacingAndGlyphs">3,</text>
<text transform="translate(130.7,543.8) scale(1,1.0)" font-size="16" fill="#131722" text-anchor="start" textLength="20.0" lengthAdjust="spacingAndGlyphs">14,</text>
<text transform="translate(156.1,543.8) scale(1,1.0)" font-size="16" fill="#131722" text-anchor="start" textLength="20.0" lengthAdjust="spacingAndGlyphs">14,</text>
<text transform="translate(181.5,543.8) scale(1,1.0)" font-size="16" fill="#131722" text-anchor="start" textLength="40.2" lengthAdjust="spacingAndGlyphs">close)</text>
<text transform="translate(230.6,543.8) scale(1,1.0)" font-size="16" fill="#2962ff" text-anchor="start" textLength="36.4" lengthAdjust="spacingAndGlyphs">25.40</text>
<text transform="translate(276.9,543.8) scale(1,1.0)" font-size="16" fill="#ff6d00" text-anchor="start" textLength="35.8" lengthAdjust="spacingAndGlyphs">51.89</text>
<text transform="translate(185.9,737.0) scale(1,1.0)" font-size="16" fill="#131722" text-anchor="middle" textLength="15.8" lengthAdjust="spacingAndGlyphs">22</text>
<text transform="translate(297.9,737.0) scale(1,1.0)" font-size="16" fill="#131722" text-anchor="middle" textLength="15.8" lengthAdjust="spacingAndGlyphs">26</text>
<text transform="translate(437.9,737.0) scale(1,1.0)" font-size="16" fill="#131722" text-anchor="middle" textLength="28.0" lengthAdjust="spacingAndGlyphs" font-weight="bold">May</text>
<text transform="translate(577.9,737.0) scale(1,1.0)" font-size="16" fill="#131722" text-anchor="middle">6</text>
<text transform="translate(773.9,737.0) scale(1,1.0)" font-size="16" fill="#131722" text-anchor="middle" textLength="15.8" lengthAdjust="spacingAndGlyphs">13</text>
<text transform="translate(970.9,737.0) scale(1,1.0)" font-size="16" fill="#131722" text-anchor="middle" textLength="15.8" lengthAdjust="spacingAndGlyphs">20</text>
<text transform="translate(1166.9,737.0) scale(1,1.0)" font-size="16" fill="#131722" text-anchor="middle" textLength="15.8" lengthAdjust="spacingAndGlyphs">27</text>
<text transform="translate(1306.9,737.0) scale(1,1.0)" font-size="16" fill="#131722" text-anchor="middle" textLength="24.0" lengthAdjust="spacingAndGlyphs" font-weight="bold">Jun</text>
<path d="M1403 168 H1475.5 Q1478 168 1478 170.5 V204.5 Q1478 207 1475.5 207 H1403 Z" fill="#26a69a"/>
<text transform="translate(1412.6,183.9) scale(1,1.0)" font-size="15.2" fill="#fff" text-anchor="start" textLength="52.5" lengthAdjust="spacingAndGlyphs" fill-opacity="1" stroke="#fff" stroke-width="0.3">0.66424</text>
<text transform="translate(1412.6,202.0) scale(1,1.0)" font-size="15.2" fill="#fff" text-anchor="start" textLength="58.0" lengthAdjust="spacingAndGlyphs" fill-opacity="0.72" stroke="#fff" stroke-width="0.3">02:32:06</text>
<path d="M1403 207 H1470.5 Q1473 207 1473 209.5 V225.5 Q1473 228 1470.5 228 H1403 Z" fill="#ff0000"/>
<text transform="translate(1412.6,223.0) scale(1,1.0)" font-size="15.2" fill="#fff" text-anchor="start" textLength="52.5" lengthAdjust="spacingAndGlyphs" fill-opacity="1" stroke="#fff" stroke-width="0.3">0.66424</text>
<path d="M1403 228 H1470.5 Q1473 228 1473 230.5 V246.5 Q1473 249 1470.5 249 H1403 Z" fill="#ff7f0e"/>
<text transform="translate(1412.6,244.0) scale(1,1.0)" font-size="15.2" fill="#fff" text-anchor="start" textLength="52.5" lengthAdjust="spacingAndGlyphs" fill-opacity="1" stroke="#fff" stroke-width="0.3">0.66402</text>
<path d="M1403 249 H1470.5 Q1473 249 1473 251.5 V267.5 Q1473 270 1470.5 270 H1403 Z" fill="#00ffff"/>
<text transform="translate(1412.6,265.0) scale(1,1.0)" font-size="15.2" fill="#131722" text-anchor="start" textLength="52.5" lengthAdjust="spacingAndGlyphs" fill-opacity="1">0.66363</text>
<path d="M1403 270 H1470.5 Q1473 270 1473 272.5 V288.5 Q1473 291 1470.5 291 H1403 Z" fill="#0000ff"/>
<text transform="translate(1412.6,286.0) scale(1,1.0)" font-size="15.2" fill="#fff" text-anchor="start" textLength="52.5" lengthAdjust="spacingAndGlyphs" fill-opacity="1" stroke="#fff" stroke-width="0.3">0.66151</text>
<path d="M1403 606 H1454.9 Q1457.4 606 1457.4 608.5 V624.2 Q1457.4 626.7 1454.9 626.7 H1403 Z" fill="#ff6d00"/>
<text transform="translate(1412.6,622.2) scale(1,1.0)" font-size="15.2" fill="#fff" text-anchor="start" textLength="37.4" lengthAdjust="spacingAndGlyphs" fill-opacity="1" stroke="#fff" stroke-width="0.3">51.89</text>
<path d="M1403 634.2 H1454.9 Q1457.4 634.2 1457.4 636.7 V652.3000000000001 Q1457.4 654.8000000000001 1454.9 654.8000000000001 H1403 Z" fill="#2962ff"/>
<text transform="translate(1412.6,650.4) scale(1,1.0)" font-size="15.2" fill="#fff" text-anchor="start" textLength="37.4" lengthAdjust="spacingAndGlyphs" fill-opacity="1" stroke="#fff" stroke-width="0.3">25.40</text>
<circle cx="1354.7" cy="501.5" r="12.2" fill="#fff" stroke="#9c27b0" stroke-width="2"/>
<path d="M1358.6 494.4 L1348.2 502.6 L1354.9 502 L1350.3 508.4 L1361 500.2 L1354.3 500.8 Z" fill="#9c27b0" stroke="#9c27b0" stroke-width="0.6" stroke-linejoin="round"/>
<circle cx="1377.6" cy="501.5" r="12.6" fill="#fff" stroke="#f23645" stroke-width="2"/>
<clipPath id="fl"><circle cx="1377.2" cy="501.7" r="9.9"/></clipPath>
<g clip-path="url(#fl)">
<rect x="1366" y="490" width="24" height="24" fill="#fafbff"/>
<rect x="1366" y="491.9" width="24" height="3.97" fill="#ef5350"/>
<rect x="1366" y="499.8" width="24" height="3.97" fill="#ef5350"/>
<rect x="1366" y="507.8" width="24" height="3.97" fill="#ef5350"/>
<rect x="1366" y="490" width="13.2" height="13.8" fill="#1e88e5"/>
<circle cx="1370.1" cy="494.5" r="0.75" fill="#fff" fill-opacity="0.85"/>
<circle cx="1373.3" cy="494.5" r="0.75" fill="#fff" fill-opacity="0.85"/>
<circle cx="1376.6" cy="494.5" r="0.75" fill="#fff" fill-opacity="0.85"/>
<circle cx="1370.1" cy="497.9" r="0.75" fill="#fff" fill-opacity="0.85"/>
<circle cx="1373.3" cy="497.9" r="0.75" fill="#fff" fill-opacity="0.85"/>
<circle cx="1376.6" cy="497.9" r="0.75" fill="#fff" fill-opacity="0.85"/>
<circle cx="1370.1" cy="501.1" r="0.75" fill="#fff" fill-opacity="0.85"/>
<circle cx="1373.3" cy="501.1" r="0.75" fill="#fff" fill-opacity="0.85"/>
<circle cx="1376.6" cy="501.1" r="0.75" fill="#fff" fill-opacity="0.85"/>
</g>
<g fill="#131722">
<path d="M13 765 H22.8 V776.6 H17.6 V769.6 H13 Z"/>
<circle cx="27" cy="767.2" r="2.4"/>
<path d="M31.7 765 H37.3 L33.1 776.6 H27 Z"/>
</g>
<text transform="translate(41.5,776.6) scale(1,1.0)" font-size="15.6" fill="#131722" text-anchor="start" textLength="88.5" lengthAdjust="spacingAndGlyphs" fill-opacity="0.88">TradingView</text>
</g>
</svg>
</body></html>
